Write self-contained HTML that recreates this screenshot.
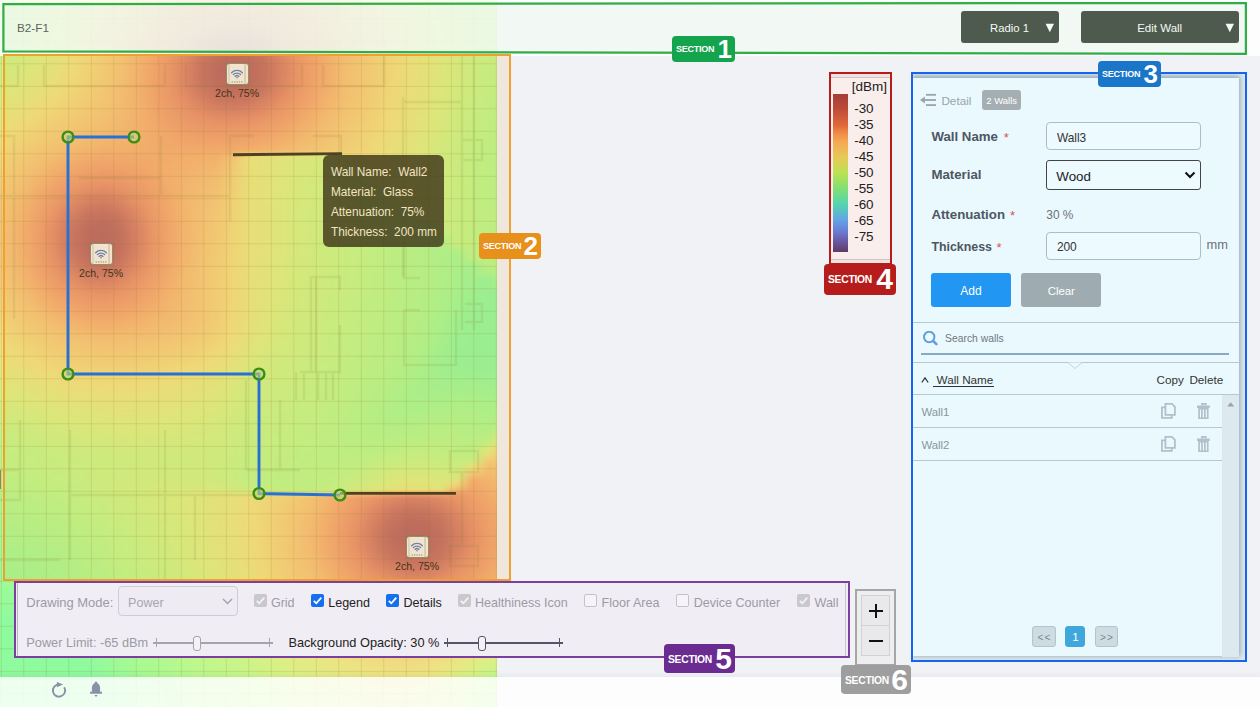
<!DOCTYPE html>
<html lang="en">
<head>
<meta charset="utf-8">
<title>Edit Wall</title>
<style>
*{box-sizing:border-box;margin:0;padding:0}
html,body{width:1260px;height:707px;overflow:hidden}
body{background:#f1f2f6;font-family:"Liberation Sans","DejaVu Sans",sans-serif;position:relative;color:#333}
.abs{position:absolute}
.tx{position:absolute;white-space:nowrap;line-height:1}
#heat{left:0;top:0;width:497px;height:707px;overflow:hidden;background:#d3e77c}
#hm{position:absolute;left:-8px;top:-8px;width:513px;filter:blur(1.5px)}
#hm i{display:block;height:4px;width:513px}
#grid{position:absolute;left:0;top:0;width:497px;height:707px;background-image:
 linear-gradient(to right,rgba(125,105,35,.165) 0,rgba(125,105,35,.165) 1.2px,transparent 1.2px),
 linear-gradient(to bottom,rgba(125,105,35,.165) 0,rgba(125,105,35,.165) 1.2px,transparent 1.2px);
 background-size:22.5px 22.5px;background-position:0.8px 18.3px}
#topbar{left:0;top:0;width:1260px;height:56px;background:rgba(255,255,255,.84)}
#footbar{left:0;top:677px;width:1260px;height:30px;background:rgba(255,255,255,.84);box-shadow:0 -2px 5px rgba(40,40,60,.05)}
.sec{position:absolute;border:2px solid}
.tag{position:absolute;color:#fff;font-weight:bold;border-radius:4px;white-space:nowrap}
.tag span{position:absolute;font-size:9px;letter-spacing:-.25px;left:4px;top:8px;line-height:11px}
.tag b{position:absolute;font-size:26px;right:3px;top:-2px;line-height:30px}
.tag.big span{font-size:10.3px;top:10px;line-height:12px}
.tag.big b{font-size:30px;top:-2px;line-height:34px;right:3px}
.tbtn{position:absolute;top:11px;height:32px;background:#50564f;border-radius:3px}
.ap{position:absolute;width:22.2px;height:22.2px;background:#f2eee6;border:1px solid #8c8876;border-radius:3px;box-shadow:0 0 1px rgba(60,50,30,.45);overflow:hidden}
#tip{left:323px;top:155px;width:121px;height:92px;background:rgba(44,48,28,.86);border-radius:6px}
#legend{left:831px;top:74px;width:59px;height:189px;background:#f2e2e0}
#legend .in{position:absolute;left:0;top:3px;width:59px;height:183px;background:#f9eeec;border-top:1px solid #cfc4c4;border-bottom:1px solid #cfc4c4}
#legend .bar{position:absolute;left:2px;top:20px;width:15px;height:158px;background:linear-gradient(to bottom,#a63c38 0,#bc4a38 9%,#e2683a 20%,#f08c48 25%,#f4a852 30%,#e8c858 40%,#bce254 50%,#84e070 59%,#54d4ae 70%,#62a8e4 79%,#6a82d8 86%,#6a5aa4 93%,#5e3c66 100%)}
#rp{left:911px;top:72px;width:336px;height:590px;border:2px solid #1565f0;background:#dde8ed;overflow:hidden}
#rpi{position:absolute;left:0px;top:4px;width:326px;height:578px;background:#eaf9fe;box-shadow:0 -1px 5px 1px rgba(70,100,120,.5)}
.inp{position:absolute;left:1046px;width:155px;height:28px;border:1px solid #aebcc6;border-radius:4px;background:#edfaff}
.hl{position:absolute;left:913px;width:326px;height:1px;background:#b6c8d0}
.btn{position:absolute;top:273px;width:80px;height:34px;border-radius:3px}
.pg{position:absolute;top:626px;height:21px;border-radius:3px;border:1px solid #b4c4cb;background:#ccdce2}
#ctl{left:14px;top:581px;width:836px;height:77px;border:2px solid #7b3fa0;background:#f1edf5}
.cb{position:absolute;width:13px;height:13px;border-radius:2px}
.cb.off{border:1px solid #c4c4c8;background:#f6f4f8}
.cb.dis{background:#c9c9cd}
.cb.on{background:#1570ef}
.cb svg{position:absolute;left:0;top:0}
.sl{position:absolute;height:1.5px;top:642px}
.sl:before,.sl:after{content:"";position:absolute;top:-4px;width:1px;height:9px;background:inherit}
.sl:before{left:3px}.sl:after{right:3px}
.th{position:absolute;top:636px;width:8px;height:15px;border-radius:3px;background:#f4f2f6}
#zm{left:855px;top:589px;width:41px;height:77px;border:2px solid #a6a6a6;background:#eeeef0}
#zm div{position:absolute;left:4px;width:29px;height:31px;background:#e9e9eb;border:1px solid #d2d2d6}
</style>
</head>
<body>
<div id="heat" class="abs">
<div id="hm">
<i style="background:linear-gradient(90deg,#c1f68b,#c4f68a,#c9f489,#d1f287,#d9f085,#e0ec84,#e7e783,#eee182,#f0da80,#f1d27e,#f3cb7c,#f3c47a,#f3be79,#f3b777,#f3b375,#f3b175,#f3b275,#f3b576,#f3bb78,#f3c27a,#f3c87b,#f2ce7d,#f1d57f,#efdb81,#eee283,#e8e683,#e3ea84,#deed85,#d8f185,#d1f387,#cdf488,#c9f489,#c6f58a)"></i>
<i style="background:linear-gradient(90deg,#c1f78b,#c3f68a,#c9f489,#d1f287,#d9f085,#e0ec84,#e8e783,#eee082,#f0d880,#f2d07e,#f3c97c,#f3c27a,#f3ba77,#f3b375,#f2ae74,#f2ac73,#f2ad74,#f3b175,#f3b777,#f3c079,#f3c67b,#f3cc7d,#f1d37f,#f0da80,#eee182,#e9e683,#e4e984,#deed84,#d9f185,#d1f287,#cdf488,#c9f489,#c6f58a)"></i>
<i style="background:linear-gradient(90deg,#c0f78b,#c3f68b,#c9f489,#d1f287,#daf085,#e1eb84,#e9e683,#eedf82,#f0d780,#f2cf7d,#f3c77b,#f3bf79,#f3b676,#f2ae74,#f2a973,#f1a772,#f2a872,#f2ac73,#f3b375,#f3bc78,#f3c37a,#f3ca7c,#f2d17e,#f0d880,#eedf82,#eae583,#e4e984,#dfed84,#d9f085,#d2f287,#cdf488,#c9f589,#c5f58a)"></i>
<i style="background:linear-gradient(90deg,#c0f78b,#c3f68b,#c9f489,#d1f287,#daf085,#e1eb84,#e9e583,#efde82,#f1d67f,#f3cd7d,#f3c57b,#f3bc78,#f3b275,#f2aa73,#f0a572,#efa372,#f0a472,#f2a872,#f2ae74,#f3b877,#f3c17a,#f3c97c,#f2d07e,#f0d780,#efde82,#ebe483,#e5e884,#dfec84,#daf085,#d2f287,#cdf488,#c9f589,#c5f58a)"></i>
<i style="background:linear-gradient(90deg,#c0f78b,#c2f68b,#c9f489,#d1f287,#daf085,#e1eb84,#eae583,#efdd81,#f1d47f,#f3cc7c,#f3c37a,#f3b877,#f2ae74,#f1a672,#eea171,#ed9f71,#eea071,#f0a472,#f2aa73,#f3b476,#f3bf79,#f3c77b,#f2ce7d,#f1d67f,#efdd81,#ece483,#e6e884,#e0ec84,#daf085,#d2f287,#cdf488,#c8f589,#c5f58a)"></i>
<i style="background:linear-gradient(90deg,#bff78b,#c2f68b,#c9f489,#d1f287,#daf085,#e2eb84,#ebe483,#efdc81,#f1d37f,#f3ca7c,#f3c17a,#f3b576,#f2aa73,#efa271,#ec9d71,#eb9b70,#ec9c70,#eea071,#f1a772,#f3b075,#f3bc78,#f3c57b,#f3cd7d,#f1d57f,#efdc81,#ede383,#e6e884,#e0ec84,#daf085,#d3f287,#ccf488,#c8f589,#c5f68a)"></i>
<i style="background:linear-gradient(90deg,#bff78c,#c3f68b,#c9f489,#d2f287,#dbef85,#e2ea84,#ece483,#efdb81,#f2d27e,#f3c97c,#f3be79,#f3b175,#f1a672,#ed9e71,#ea9970,#e9966f,#e99870,#ec9c70,#efa372,#f2ac74,#f3b877,#f3c37a,#f3cb7c,#f1d37f,#efdb81,#eee383,#e7e784,#e1eb84,#dbef85,#d3f287,#ccf488,#c8f589,#c4f68a)"></i>
<i style="background:linear-gradient(90deg,#bff78c,#c3f68b,#caf489,#d2f287,#dbef85,#e3ea84,#ece383,#f0da81,#f2d17e,#f3c77b,#f3bb78,#f2ae74,#efa372,#eb9b70,#e8946f,#e6906f,#e7926f,#ea9870,#eda071,#f2a973,#f3b576,#f3c27a,#f3ca7c,#f1d27e,#f0da80,#eee283,#e7e783,#e1eb84,#dbef85,#d3f287,#ccf488,#c8f589,#c4f68a)"></i>
<i style="background:linear-gradient(90deg,#bff78c,#c3f68b,#caf489,#d2f287,#dbef85,#e4e984,#ede383,#f0d980,#f2cf7e,#f3c67b,#f3b977,#f2ab73,#eea071,#e99770,#e58e6e,#e18b6d,#e38c6e,#e7936f,#ec9c71,#f1a672,#f3b275,#f3c079,#f3c97c,#f2d17e,#f0d980,#eee182,#e8e783,#e2eb84,#dbef85,#d3f286,#ccf488,#c7f589,#c4f68a)"></i>
<i style="background:linear-gradient(90deg,#bff78c,#c3f68b,#caf489,#d3f287,#dcef85,#e5e984,#eee283,#f0d880,#f2ce7d,#f3c47a,#f3b676,#f2a872,#ec9d71,#e7926f,#df896d,#db846c,#dd876c,#e58e6e,#ea9970,#efa372,#f3b075,#f3be79,#f3c87b,#f2d07e,#f0d880,#eee082,#e8e683,#e2eb84,#dbef85,#d3f286,#ccf488,#c7f58a,#c3f68b)"></i>
<i style="background:linear-gradient(90deg,#bff78b,#c4f68a,#cbf489,#d4f286,#ddee85,#e6e884,#eee182,#f0d780,#f3cd7d,#f3c37a,#f3b476,#f0a572,#eb9a70,#e48d6e,#d9836c,#d47e6b,#d7816b,#e0896d,#e8966f,#eea171,#f2ad74,#f3bc78,#f3c67b,#f2cf7d,#f0d880,#eee082,#e9e683,#e2ea84,#dcef85,#d4f286,#cbf488,#c7f58a,#c3f68b)"></i>
<i style="background:linear-gradient(90deg,#c0f78b,#c4f68a,#cbf488,#d5f286,#ddee85,#e6e884,#eee082,#f1d67f,#f3cc7d,#f3c17a,#f3b175,#efa372,#e99770,#df886d,#d37d6a,#cd7869,#d07b6a,#da846c,#e7926f,#ed9e71,#f2ab73,#f3ba77,#f3c57b,#f2ce7d,#f0d780,#efdf82,#e9e683,#e2ea84,#dcef85,#d4f286,#cbf489,#c6f58a,#c2f68b)"></i>
<i style="background:linear-gradient(90deg,#c0f78b,#c5f68a,#ccf488,#d6f186,#deed84,#e7e783,#eedf82,#f1d57f,#f3cb7c,#f3bf79,#f3af74,#eea171,#e7936f,#da846c,#cd7869,#c77268,#ca7568,#d57f6b,#e58e6e,#ec9c70,#f2a973,#f3b877,#f3c47a,#f3ce7d,#f0d67f,#efdf82,#e9e683,#e2ea84,#dcef85,#d4f286,#cbf489,#c6f58a,#c2f68b)"></i>
<i style="background:linear-gradient(90deg,#c1f68b,#c6f58a,#cef388,#d7f186,#dfed84,#e8e683,#efdf82,#f1d47f,#f3ca7c,#f3be78,#f2ad74,#ed9f71,#e6906e,#d5806b,#c77268,#c26e67,#c47067,#d07b6a,#e18a6d,#eb9a70,#f1a772,#f3b676,#f3c37a,#f3cd7d,#f1d67f,#efde82,#eae583,#e3ea84,#dcef85,#d3f286,#caf489,#c5f58a,#c1f68b)"></i>
<i style="background:linear-gradient(90deg,#c2f68b,#c7f58a,#cff388,#d8f185,#e0ec84,#e9e683,#efde81,#f1d47f,#f3c97c,#f3bc78,#f2ab73,#ec9d71,#e48d6e,#d17c6a,#c36f67,#be6b66,#c06d66,#cc7669,#de876d,#ea9870,#f0a572,#f3b576,#f3c37a,#f3cc7d,#f1d57f,#efde81,#eae583,#e3ea84,#dcef85,#d3f286,#caf489,#c5f58a,#c1f68b)"></i>
<i style="background:linear-gradient(90deg,#c3f68b,#c8f589,#d0f387,#d9f085,#e1eb84,#eae583,#efdd81,#f1d37e,#f3c87c,#f3bb78,#f2aa73,#eb9b70,#e18a6d,#cd7869,#bf6c66,#b96865,#bd6a66,#c77368,#da846c,#e99670,#f0a472,#f3b376,#f3c27a,#f3cc7d,#f1d57f,#efde81,#eae583,#e3ea84,#dcef85,#d3f287,#caf489,#c5f68a,#c0f78b)"></i>
<i style="background:linear-gradient(90deg,#c4f68a,#caf489,#d2f287,#daf085,#e2eb84,#ebe583,#efdc81,#f2d27e,#f3c77b,#f3b977,#f2a973,#eb9a70,#de886d,#ca7568,#bc6a66,#b66664,#b96865,#c47067,#d8826b,#e8956f,#efa372,#f3b275,#f3c17a,#f3cb7c,#f1d57f,#efdd81,#eae583,#e3ea84,#dcef85,#d3f287,#caf489,#c4f68a,#c0f78b)"></i>
<i style="background:linear-gradient(90deg,#c6f58a,#ccf488,#d4f286,#dcef85,#e3ea84,#ece483,#efdb81,#f2d17e,#f3c77b,#f3b877,#f1a872,#ea9970,#dc866c,#c77268,#b96865,#b56564,#b76664,#c26e67,#d6806b,#e7936f,#efa272,#f3b275,#f3c179,#f3cb7c,#f1d47f,#efdd81,#eae583,#e3ea84,#dcef85,#d3f287,#c9f489,#c4f68a,#bff78b)"></i>
<i style="background:linear-gradient(90deg,#c7f589,#cdf388,#d5f186,#ddee85,#e4e984,#ede383,#f0da80,#f2d07e,#f3c67b,#f3b877,#f1a772,#ea9870,#db856c,#c57167,#b76765,#b46564,#b66664,#c16d67,#d57f6b,#e7936f,#efa271,#f3b175,#f3c179,#f3cb7c,#f1d47f,#efdd81,#ebe583,#e3ea84,#dbef85,#d2f287,#c9f589,#c3f68b,#bff78c)"></i>
<i style="background:linear-gradient(90deg,#c9f489,#cff387,#d7f186,#deed84,#e5e884,#eee283,#f0d980,#f2d07e,#f3c57b,#f3b777,#f1a672,#e99770,#da846c,#c47067,#b66664,#b46464,#b66664,#c06d66,#d47e6a,#e7926f,#efa271,#f3b175,#f3c179,#f3cb7c,#f1d47f,#efdd81,#ebe583,#e3ea84,#dbef85,#d2f287,#c8f589,#c2f68b,#bef78c)"></i>
<i style="background:linear-gradient(90deg,#cbf489,#d1f287,#d9f085,#dfec84,#e6e784,#eee182,#f0d980,#f2cf7d,#f3c57b,#f3b676,#f1a672,#e99770,#da836c,#c47067,#b66664,#b36464,#b66564,#c06d66,#d47e6a,#e7926f,#efa271,#f3b175,#f3c179,#f3cb7c,#f1d47f,#efdd81,#eae583,#e3ea84,#dbef85,#d2f287,#c8f589,#c2f68b,#bdf78c)"></i>
<i style="background:linear-gradient(90deg,#cdf388,#d3f286,#daef85,#e1eb84,#e8e783,#eee082,#f0d880,#f2ce7d,#f3c47a,#f3b676,#f0a572,#e99770,#da846c,#c57067,#b76664,#b46464,#b66664,#c16d67,#d57f6b,#e7936f,#efa271,#f3b175,#f3c179,#f3cb7c,#f1d47f,#efdd81,#eae583,#e2ea84,#dbef85,#d1f287,#c7f589,#c1f68b,#bdf78c)"></i>
<i style="background:linear-gradient(90deg,#cff387,#d5f186,#dcee85,#e2ea84,#e9e683,#efdf82,#f0d67f,#f3cd7d,#f3c37a,#f3b676,#f0a572,#e99770,#da846c,#c67167,#b96865,#b56564,#b66664,#c26e67,#d6806b,#e7936f,#efa272,#f3b275,#f3c179,#f3cb7c,#f1d47f,#efdd81,#eae583,#e2ea84,#dbef85,#d1f387,#c7f58a,#c1f78b,#bcf78c)"></i>
<i style="background:linear-gradient(90deg,#d1f287,#d8f185,#deed85,#e4e984,#ebe583,#efde81,#f1d57f,#f3cd7d,#f3c37a,#f3b576,#f0a572,#e99770,#dc856c,#c87368,#bb6965,#b66664,#b96865,#c47067,#d8826b,#e8956f,#efa372,#f3b275,#f3c17a,#f3cb7c,#f1d57f,#efde81,#eae583,#e2eb84,#daf085,#d0f387,#c6f58a,#c0f78b,#bcf88d)"></i>
<i style="background:linear-gradient(90deg,#d4f286,#daf085,#dfec84,#e5e884,#ece483,#efdc81,#f1d47f,#f3cc7c,#f3c27a,#f3b576,#f1a672,#ea9870,#dd876d,#cb7569,#be6b66,#b96765,#bc6a66,#c77268,#da846c,#e99670,#f0a472,#f3b376,#f3c27a,#f3cc7d,#f1d57f,#efde81,#eae583,#e2eb84,#daf085,#d0f387,#c6f58a,#c0f78b,#bbf88d)"></i>
<i style="background:linear-gradient(90deg,#d6f186,#dbef85,#e1eb84,#e7e783,#eee283,#f0db81,#f1d37e,#f3cb7c,#f3c17a,#f3b576,#f1a672,#ea9870,#df896d,#ce7869,#c16e67,#bd6a66,#c06d66,#cb7669,#dd876d,#ea9870,#f0a572,#f3b576,#f3c37a,#f3cc7d,#f1d67f,#efde82,#e9e683,#e1eb84,#daf085,#cff388,#c5f58a,#bff78c,#baf88d)"></i>
<i style="background:linear-gradient(90deg,#d8f185,#ddee85,#e3ea84,#e9e683,#eee082,#f0d980,#f2d27e,#f3ca7c,#f3c179,#f3b576,#f1a672,#ea9970,#e28b6d,#d17c6a,#c57067,#c16d67,#c46f67,#d07b6a,#e18a6d,#eb9a70,#f1a772,#f3b676,#f3c37a,#f3cd7d,#f1d67f,#efdf82,#e9e683,#e1eb84,#d9f085,#cff388,#c4f68a,#bef78c,#baf88d)"></i>
<i style="background:linear-gradient(90deg,#daf085,#dfed84,#e5e984,#ebe483,#efdf82,#f0d780,#f2d07e,#f3c97c,#f3c079,#f3b676,#f1a772,#eb9a70,#e58e6e,#d5806b,#ca7568,#c57167,#c97468,#d57f6b,#e58e6e,#ec9c70,#f2a973,#f3b877,#f3c47a,#f2ce7d,#f0d77f,#eedf82,#e8e683,#e1eb84,#d9f185,#cef388,#c4f68a,#bef78c,#b9f88d)"></i>
<i style="background:linear-gradient(90deg,#dcef85,#e1eb84,#e7e784,#ede383,#efdd81,#f1d67f,#f2cf7d,#f3c87b,#f3bf79,#f3b676,#f2a872,#eb9b70,#e6906f,#da846c,#d07a6a,#cc7769,#d07a6a,#da846c,#e6926f,#ed9e71,#f2ab73,#f3b977,#f3c57b,#f2ce7d,#f0d780,#eee082,#e8e783,#e0ec84,#d8f185,#cdf388,#c3f68a,#bdf78c,#b9f88d)"></i>
<i style="background:linear-gradient(90deg,#deed85,#e2ea84,#e9e683,#eee182,#f0db81,#f1d47f,#f2ce7d,#f3c77b,#f3bf79,#f3b676,#f2a873,#ec9d71,#e7936f,#de886d,#d5806b,#d27d6a,#d6806b,#e0896d,#e8956f,#eea171,#f2ad74,#f3bb78,#f3c67b,#f2cf7d,#f0d880,#eee082,#e7e783,#e0ec84,#d8f185,#cdf488,#c3f68b,#bdf78c,#b8f88e)"></i>
<i style="background:linear-gradient(90deg,#dfec84,#e4e984,#ebe583,#efdf82,#f0d980,#f1d27e,#f3cc7d,#f3c57b,#f3be79,#f3b576,#f2a973,#ed9e71,#e8956f,#e38c6e,#db856c,#d9836c,#dc866c,#e58e6e,#ea9970,#efa372,#f3b074,#f3be79,#f3c77b,#f2d07e,#f0d980,#eee182,#e7e784,#dfec84,#d7f186,#ccf488,#c2f68b,#bcf78c,#b7f88e)"></i>
<i style="background:linear-gradient(90deg,#e1eb84,#e6e784,#ede383,#efdd81,#f0d77f,#f2d07e,#f3ca7c,#f3c47a,#f3bd78,#f3b576,#f2aa73,#eea071,#e99770,#e6906f,#e18a6d,#df886d,#e28c6e,#e7936f,#ec9c70,#f1a672,#f3b275,#f3c079,#f3c97c,#f2d17e,#f0da80,#eee283,#e6e884,#dfed84,#d6f186,#ccf488,#c2f68b,#bcf88c,#b7f88e)"></i>
<i style="background:linear-gradient(90deg,#e3ea84,#e9e683,#eee182,#f0db81,#f1d47f,#f2ce7d,#f3c87c,#f3c27a,#f3bc78,#f3b476,#f2ab73,#eea171,#ea9970,#e8946f,#e6906e,#e58e6e,#e6916f,#ea9870,#ed9f71,#f2a973,#f3b576,#f3c17a,#f3ca7c,#f1d27e,#f0da81,#eee383,#e6e884,#deed84,#d6f186,#cbf489,#c2f68b,#bbf88d,#b6f88e)"></i>
<i style="background:linear-gradient(90deg,#e4e984,#ebe583,#efdf82,#f0d880,#f1d27e,#f3cc7d,#f3c67b,#f3c179,#f3bb78,#f3b476,#f2ac74,#efa372,#ec9c70,#e99770,#e8946f,#e8946f,#e99670,#eb9b70,#efa372,#f2ac74,#f3b877,#f3c37a,#f3cb7c,#f1d37f,#efdb81,#ede383,#e5e884,#deed85,#d5f186,#caf489,#c1f68b,#bbf88d,#b6f88e)"></i>
<i style="background:linear-gradient(90deg,#e6e884,#ede383,#efdd81,#f1d67f,#f2d07e,#f3ca7c,#f3c47a,#f3bf79,#f3b977,#f3b376,#f2ad74,#f0a572,#ed9e71,#eb9a70,#ea9870,#ea9870,#eb9b70,#ed9f71,#f1a672,#f3b075,#f3bb78,#f3c57a,#f3cd7d,#f1d57f,#efdc81,#ece483,#e4e984,#ddee85,#d4f286,#c9f489,#c1f78b,#baf88d,#b6f88e)"></i>
<i style="background:linear-gradient(90deg,#e8e683,#eee283,#efdb81,#f1d47f,#f3cd7d,#f3c87b,#f3c27a,#f3bd78,#f3b877,#f3b375,#f2ad74,#f1a772,#eea171,#ec9d71,#ec9c70,#ec9c71,#ed9f71,#efa372,#f2aa73,#f3b376,#f3bf79,#f3c67b,#f2ce7d,#f1d67f,#efdd81,#ebe483,#e4e984,#ddee85,#d3f286,#c9f589,#c0f78b,#baf88d,#b5f88e)"></i>
<i style="background:linear-gradient(90deg,#eae583,#eee082,#f0d980,#f2d27e,#f3cb7c,#f3c57b,#f3c079,#f3bb78,#f3b777,#f3b275,#f2ad74,#f2a873,#f0a472,#eea171,#eea071,#eea071,#efa372,#f1a772,#f2ae74,#f3b777,#f3c179,#f3c87b,#f2cf7e,#f0d780,#efde82,#eae583,#e3ea84,#dcee85,#d3f287,#c8f589,#c0f78b,#baf88d,#b5f88f)"></i>
<i style="background:linear-gradient(90deg,#ece483,#efde81,#f0d77f,#f2cf7d,#f3c97c,#f3c37a,#f3bd78,#f3b977,#f3b576,#f3b175,#f2ad74,#f2aa73,#f1a672,#f0a472,#efa472,#f0a472,#f1a772,#f2ab73,#f3b275,#f3bb78,#f3c37a,#f3ca7c,#f2d17e,#f0d880,#eee082,#e9e683,#e2ea84,#dbef85,#d2f287,#c7f589,#c0f78b,#b9f88d,#b4f88f)"></i>
<i style="background:linear-gradient(90deg,#eee383,#efdc81,#f1d47f,#f3cd7d,#f3c67b,#f3c079,#f3ba77,#f3b676,#f3b375,#f3b075,#f2ad74,#f2ab73,#f2a973,#f1a772,#f1a772,#f2a873,#f2ab73,#f3b075,#f3b676,#f3bf79,#f3c57b,#f3cc7c,#f1d37e,#f0d980,#eee182,#e8e683,#e2eb84,#dbef85,#d1f287,#c7f58a,#bff78b,#b9f88d,#b4f88f)"></i>
<i style="background:linear-gradient(90deg,#eee182,#f0da80,#f1d27e,#f3cb7c,#f3c47a,#f3bc78,#f3b676,#f3b275,#f3b075,#f3af74,#f2ad74,#f2ac73,#f2ac73,#f2ab73,#f2ab73,#f2ad74,#f3b074,#f3b476,#f3bb78,#f3c17a,#f3c77b,#f3cd7d,#f1d47f,#efdb81,#eee283,#e7e783,#e1eb84,#daf085,#d0f387,#c6f58a,#bff78c,#b9f88d,#b4f88f)"></i>
<i style="background:linear-gradient(90deg,#eedf82,#f0d880,#f2d07e,#f3c87c,#f3c179,#f3b877,#f3b275,#f2ae74,#f2ad74,#f2ad74,#f2ad74,#f2ad74,#f2ae74,#f2af74,#f3b074,#f3bb78,#f1d37e,#f0d880,#efdd81,#eee283,#eae583,#e4e984,#efdb81,#efdc81,#ede383,#e7e784,#e0ec84,#d9f085,#d0f387,#c6f58a,#bff78c,#b8f88d,#b4f88f)"></i>
<i style="background:linear-gradient(90deg,#efde81,#f1d67f,#f2ce7d,#f3c67b,#f3bd78,#f3b476,#f2ad74,#f2aa73,#f2aa73,#f2ab73,#f2ad74,#f2ae74,#f3af74,#f3b275,#f3b476,#f3c77b,#eae583,#e4e984,#deed85,#daf085,#d5f286,#cff387,#d2f287,#efdd81,#ece483,#e6e884,#e0ec84,#d9f185,#cff388,#c6f58a,#bff78c,#b8f88e,#b3f88f)"></i>
<i style="background:linear-gradient(90deg,#efdc81,#f1d47f,#f3cc7d,#f3c47a,#f3b977,#f3b075,#f2a973,#f1a772,#f1a772,#f2a973,#f2ac74,#f2ae74,#f3b175,#f3b476,#f3b777,#f3cb7c,#e9e683,#e3ea84,#dded85,#d9f085,#d4f286,#cff388,#c9f489,#efdf82,#ebe583,#e5e884,#dfed84,#d8f185,#cef388,#c5f58a,#bef78c,#b8f88e,#b3f88f)"></i>
<i style="background:linear-gradient(90deg,#f0db81,#f1d37e,#f3ca7c,#f3c17a,#f3b576,#f2ab73,#f0a672,#efa372,#f0a472,#f1a672,#f2ab73,#f3af74,#f3b275,#f3b676,#f3b977,#f3cd7d,#e9e683,#e3ea84,#ddee85,#d8f185,#d3f287,#cef388,#c9f589,#ede383,#eae583,#e4e984,#deed84,#d7f186,#cdf388,#c5f58a,#bef78c,#b8f88e,#b3f88f)"></i>
<i style="background:linear-gradient(90deg,#f0d980,#f2d17e,#f3c87c,#f3be79,#f3b175,#f1a872,#efa271,#ed9f71,#eea071,#f0a472,#f2aa73,#f3b075,#f3b476,#f3b877,#f3bc78,#f2ce7d,#e8e683,#e3ea84,#ddee85,#d7f185,#d3f287,#cdf388,#c8f589,#d2f287,#e9e683,#e3ea84,#ddee85,#d6f186,#cdf488,#c5f58a,#bef78c,#b8f88e,#b3f88f)"></i>
<i style="background:linear-gradient(90deg,#f0d880,#f2cf7d,#f3c67b,#f3bb78,#f2ae74,#f0a472,#ed9e71,#ec9c70,#ec9d71,#efa271,#f2a872,#f3b075,#f3b576,#f3ba77,#f3be79,#f2d07e,#e8e683,#e2ea84,#dcee85,#d7f186,#d2f287,#cdf388,#c8f589,#c3f68b,#e8e783,#e2ea84,#ddee85,#d5f186,#ccf488,#c5f68a,#bef78c,#b8f88e,#b3f88f)"></i>
<i style="background:linear-gradient(90deg,#f0d77f,#f2ce7d,#f3c47a,#f3b877,#f2aa73,#eea071,#eb9a70,#ea9870,#eb9a70,#ed9f71,#f1a772,#f3b075,#f3b676,#f3bb78,#f3c079,#f2d17e,#e8e683,#e2ea84,#dcee85,#d6f186,#d1f287,#cdf488,#c7f589,#c2f68b,#e7e784,#e2eb84,#dcef85,#d4f286,#cbf488,#c5f68a,#bef78c,#b8f88e,#b3f88f)"></i>
<i style="background:linear-gradient(90deg,#f1d67f,#f3cc7d,#f3c37a,#f3b476,#f1a772,#ec9d71,#e99670,#e8946f,#e99770,#ec9d71,#f0a572,#f3af74,#f3b777,#f3bd78,#f3c27a,#f1d27e,#e8e683,#e2ea84,#dcef85,#d5f186,#d1f287,#ccf488,#c7f58a,#c2f68b,#d3f287,#e1eb84,#dbef85,#d3f286,#cbf489,#c4f68a,#bef78c,#b8f88e,#b3f88f)"></i>
<i style="background:linear-gradient(90deg,#f1d47f,#f3cb7c,#f3c179,#f3b175,#f0a472,#ea9a70,#e6916f,#e58f6e,#e7936f,#eb9a70,#efa372,#f2ae74,#f3b777,#f3be79,#f3c37a,#f1d37f,#e8e683,#e2eb84,#dcef85,#d5f186,#d0f387,#ccf488,#c7f58a,#c2f68b,#bef78c,#e0ec84,#daf085,#d2f287,#cbf489,#c4f68a,#bef78c,#b8f88e,#b3f88f)"></i>
<i style="background:linear-gradient(90deg,#f1d37f,#f3ca7c,#f3bf79,#f2ae74,#eea171,#e9966f,#e38c6e,#e08a6d,#e58f6e,#ea9870,#efa271,#f2ad74,#f3b877,#f3bf79,#f3c57b,#f1d47f,#e8e683,#e2eb84,#dcef85,#d4f286,#d0f387,#cbf488,#c6f58a,#c2f68b,#bcf78c,#dfed84,#d9f085,#d1f287,#cbf489,#c4f68a,#bdf78c,#b8f88e,#b3f88f)"></i>
<i style="background:linear-gradient(90deg,#f1d27e,#f3c87c,#f3bc78,#f2ac73,#ed9e71,#e6916f,#dd876d,#da846c,#e18a6d,#e8956f,#eea071,#f2ac74,#f3b877,#f3c079,#f3c67b,#f1d57f,#e8e683,#e2eb84,#dbef85,#d4f286,#d0f387,#cbf489,#c6f58a,#c1f68b,#bcf78c,#d4f286,#d8f185,#d1f387,#caf489,#c4f68a,#bdf78c,#b8f88e,#b3f88f)"></i>
<i style="background:linear-gradient(90deg,#f2d17e,#f3c77b,#f3ba78,#f2a973,#eb9b70,#e48d6e,#d7816b,#d47f6b,#db856c,#e7926f,#ed9e71,#f2ab73,#f3b977,#f3c179,#f3c77b,#f1d67f,#e8e683,#e2eb84,#dbef85,#d4f286,#cff387,#cbf489,#c6f58a,#c1f68b,#bcf78c,#bbf88d,#d7f185,#d0f387,#caf489,#c4f68a,#bdf78c,#b8f88e,#b3f88f)"></i>
<i style="background:linear-gradient(90deg,#f2d07e,#f3c67b,#f3b877,#f1a772,#ea9970,#df886d,#d27c6a,#ce7969,#d6816b,#e58f6e,#ec9d71,#f2aa73,#f3b977,#f3c17a,#f3c97c,#f0d77f,#e9e683,#e2eb84,#dbef85,#d3f286,#cff388,#caf489,#c6f58a,#c1f68b,#bcf88c,#b6f88e,#d6f186,#d0f387,#caf489,#c4f68a,#bdf78c,#b8f88e,#b3f88f)"></i>
<i style="background:linear-gradient(90deg,#f2d07e,#f3c57b,#f3b676,#f0a572,#e9966f,#da846c,#cc7769,#c97468,#d27c6a,#e28c6e,#eb9b70,#f2a973,#f3b977,#f3c27a,#f3c97c,#f0d780,#e9e683,#e2ea84,#dbef85,#d3f286,#cff388,#caf489,#c6f58a,#c1f68b,#bcf88c,#b6f88e,#d2f287,#cff387,#caf489,#c3f68a,#bdf78c,#b8f88e,#b3f88f)"></i>
<i style="background:linear-gradient(90deg,#f2cf7d,#f3c47a,#f3b576,#efa372,#e7936f,#d6806b,#c77268,#c46f67,#cd7869,#df886d,#eb9a70,#f2a873,#f3b977,#f3c27a,#f3ca7c,#f0d880,#e9e683,#e2ea84,#dbef85,#d3f287,#cef388,#caf489,#c6f58a,#c1f78b,#bcf88c,#b6f88e,#baf88d,#cff388,#c9f489,#c3f68a,#bdf78c,#b8f88e,#b4f88f)"></i>
<i style="background:linear-gradient(90deg,#f2ce7d,#f3c47a,#f3b376,#efa271,#e6916f,#d27c6a,#c36f67,#c06d66,#c87368,#dc866c,#ea9970,#f1a772,#f3b877,#f3c37a,#f3cb7c,#f0d880,#e9e683,#e2ea84,#dbef85,#d3f287,#cef388,#caf489,#c5f58a,#c1f78b,#bcf88d,#b6f88e,#b1f990,#cff388,#c9f489,#c3f68b,#bdf78c,#b8f88e,#b4f88f)"></i>
<i style="background:linear-gradient(90deg,#f2ce7d,#f3c37a,#f3b275,#eea171,#e58e6e,#ce7969,#bf6c66,#bc6a65,#c47067,#d9836c,#e99770,#f1a772,#f3b877,#f3c37a,#f3cc7c,#f0d880,#e9e683,#e2ea84,#dbef85,#d3f287,#cef388,#caf489,#c5f58a,#c1f78b,#bbf88d,#b6f88e,#b1f990,#cef388,#c9f489,#c3f68b,#bdf78c,#b8f88e,#b4f88f)"></i>
<i style="background:linear-gradient(90deg,#f3cd7d,#f3c27a,#f3b175,#ed9f71,#e38c6e,#cb7669,#bc6a65,#b86765,#c26e67,#d6816b,#e99670,#f1a672,#f3b777,#f3c37a,#f3cc7d,#f0d980,#e9e683,#e2ea84,#dbef85,#d3f287,#cef388,#caf489,#c5f58a,#c0f78b,#bbf88d,#b6f88e,#b1f990,#bcf88c,#c9f589,#c3f68b,#bdf78c,#b8f88e,#b4f88f)"></i>
<i style="background:linear-gradient(90deg,#f3cd7d,#f3c27a,#f3b075,#ed9e71,#e18a6d,#c87368,#b96865,#b66664,#c06c66,#d47f6b,#e8956f,#f0a672,#f3b777,#f3c37a,#f3cc7d,#f0d980,#e9e683,#e2ea84,#dbef85,#d3f287,#cef388,#c9f489,#c5f58a,#c0f78b,#bbf88d,#b6f88e,#b1f990,#aef991,#c9f589,#c3f68b,#bdf78c,#b8f88e,#b4f88f)"></i>
<i style="background:linear-gradient(90deg,#f3cd7d,#f3c27a,#f3af74,#ed9e71,#e0896d,#c67168,#b76665,#b66664,#be6b66,#d37d6a,#e8946f,#f0a572,#f3b777,#f3c47a,#f3cd7d,#f0d980,#e9e683,#e2ea84,#dbef85,#d3f287,#cef388,#c9f489,#c5f68a,#c0f78b,#bbf88d,#b6f88e,#b1f990,#adf991,#c8f589,#c3f68b,#bdf78c,#b8f88e,#b4f88f)"></i>
<i style="background:linear-gradient(90deg,#f3cd7d,#f3c17a,#f3af74,#ec9d71,#df886d,#c57067,#b76664,#b56564,#bc6a66,#d27c6a,#e8946f,#f0a572,#f3b777,#f3c47a,#f3cd7d,#f0d980,#e9e683,#e2ea84,#dbef85,#d3f287,#cdf388,#c9f489,#c5f68a,#c0f78b,#bbf88d,#b6f88e,#b1f990,#adf991,#bff78c,#c2f68b,#bdf78c,#b8f88e,#b4f88f)"></i>
<i style="background:linear-gradient(90deg,#f3cd7d,#f3c17a,#f2af74,#ec9d71,#de886d,#c47067,#b66664,#b46564,#bc6a65,#d17c6a,#e7936f,#f0a572,#f3b777,#f3c47a,#f3ce7d,#f0da80,#e9e683,#e2ea84,#dbef85,#d3f287,#cdf388,#c9f489,#c4f68a,#c0f78b,#bbf88d,#b6f88e,#b1f990,#adf991,#abf991,#c2f68b,#bdf78c,#b8f88e,#b4f88f)"></i>
<i style="background:linear-gradient(90deg,#f3cd7d,#f3c17a,#f2af74,#ec9d71,#de886d,#c47067,#b66664,#b56564,#bc6a65,#d17c6a,#e7936f,#f0a572,#f3b777,#f3c47a,#f2ce7d,#f0da80,#e9e683,#e2eb84,#dbef85,#d2f287,#cdf388,#c9f589,#c4f68a,#c0f78b,#bbf88d,#b6f88e,#b1f990,#adf991,#a8f992,#c2f68b,#bcf78c,#b7f88e,#b4f88f)"></i>
<i style="background:linear-gradient(90deg,#f3cd7d,#f3c27a,#f3af74,#ec9d71,#df886d,#c57067,#b76664,#b56564,#bd6a66,#d27c6a,#e8946f,#f0a572,#f3b777,#f3c57b,#f2ce7d,#f0da80,#e9e683,#e2eb84,#dbef85,#d2f287,#cdf388,#c9f589,#c4f68a,#c0f78b,#bbf88d,#b6f88e,#b1f990,#adf991,#a8f992,#bff78c,#bcf78c,#b7f88e,#b3f88f)"></i>
<i style="background:linear-gradient(90deg,#f3cd7d,#f3c27a,#f3b074,#ed9e71,#e0896d,#c67268,#b76665,#b66664,#be6b66,#d37d6a,#e8956f,#f1a672,#f3b877,#f3c57b,#f2cf7d,#f0db81,#e9e683,#e2eb84,#dbef85,#d2f287,#cdf488,#c8f589,#c4f68a,#c0f78b,#bbf88d,#b6f88e,#b1f990,#adf991,#a8f992,#aaf992,#bcf88c,#b7f88e,#b3f88f)"></i>
<i style="background:linear-gradient(90deg,#f3ce7d,#f3c27a,#f3b075,#ed9f71,#e18b6d,#c87368,#b96865,#b76664,#c06d66,#d57f6b,#e9966f,#f1a672,#f3b877,#f3c57b,#f2cf7d,#efdb81,#e9e683,#e2eb84,#dbef85,#d2f287,#cdf488,#c8f589,#c4f68a,#c0f78b,#bbf88d,#b6f88e,#b1f990,#adf991,#a8f992,#a2fa95,#bbf88d,#b6f88e,#b2f88f)"></i>
<i style="background:linear-gradient(90deg,#f2ce7d,#f3c37a,#f3b175,#eda071,#e38c6e,#cb7669,#bc6a66,#b86765,#c26e67,#d7816b,#e99770,#f1a772,#f3b977,#f3c67b,#f2d07e,#efdb81,#e9e683,#e1eb84,#daf085,#d1f287,#ccf488,#c8f589,#c4f68a,#bff78b,#bbf88d,#b6f88e,#b1f990,#adf991,#a8f992,#a2fa95,#bbf88d,#b6f88e,#b2f98f)"></i>
<i style="background:linear-gradient(90deg,#f2ce7d,#f3c37a,#f3b275,#eea171,#e58e6e,#ce7969,#bf6c66,#bc6a66,#c57067,#da846c,#ea9870,#f2a872,#f3ba77,#f3c67b,#f2d07e,#efdc81,#e8e683,#e1eb84,#daf085,#d1f287,#ccf488,#c8f589,#c4f68a,#bff78b,#bbf88d,#b6f88e,#b1f990,#adf991,#a8f992,#a2fa95,#aaf992,#b5f88e,#b1f990)"></i>
<i style="background:linear-gradient(90deg,#f2cf7d,#f3c47a,#f3b476,#efa271,#e6916f,#d27d6a,#c36f67,#c06d66,#c97468,#dd866c,#eb9a70,#f2a973,#f3bb78,#f3c77b,#f2d17e,#efdc81,#e8e683,#e1eb84,#daf085,#d1f287,#ccf488,#c8f589,#c4f68a,#bff78c,#bbf88d,#b5f88e,#b1f990,#adf991,#a8f992,#a2fa95,#9cfa98,#b4f88f,#b0f990)"></i>
<i style="background:linear-gradient(90deg,#f2d07e,#f3c57b,#f3b576,#f0a472,#e7936f,#d6806b,#c77268,#c47067,#ce7869,#e0896d,#eb9b70,#f2aa73,#f3bc78,#f3c77b,#f2d17e,#efdc81,#e8e683,#e1eb84,#daf085,#d1f387,#ccf488,#c8f589,#c3f68a,#bff78c,#baf88d,#b5f88e,#b1f990,#adf991,#a8f992,#a1fa95,#9afa99,#b3f88f,#aff990)"></i>
<i style="background:linear-gradient(90deg,#f2d07e,#f3c67b,#f3b777,#f0a572,#e99670,#db856c,#cd7769,#c97468,#d27d6a,#e48d6e,#ec9d71,#f2ac73,#f3bd78,#f3c87b,#f2d17e,#efdd81,#e8e683,#e1eb84,#daf085,#d0f387,#ccf488,#c8f589,#c3f68a,#bff78c,#baf88d,#b5f88e,#b1f990,#adf991,#a8f992,#a1fa96,#99fa99,#aaf992,#aef991)"></i>
<i style="background:linear-gradient(90deg,#f2d17e,#f3c77b,#f3b977,#f1a772,#ea9970,#df896d,#d27d6a,#cf7a6a,#d8826b,#e6906f,#ed9f71,#f2ad74,#f3be78,#f3c87b,#f2d17e,#efdd81,#e8e783,#e1eb84,#d9f085,#d0f387,#ccf488,#c7f589,#c3f68b,#bff78c,#baf88d,#b5f88e,#b1f990,#adf991,#a8fa92,#a1fa96,#98fa9a,#95fa9c,#adf991)"></i>
<i style="background:linear-gradient(90deg,#f1d27e,#f3c87b,#f3bb78,#f2aa73,#ec9c70,#e48d6e,#d8826b,#d57f6b,#dd866c,#e8946f,#eea171,#f2af74,#f3be79,#f3c87c,#f2d27e,#efdd81,#e8e783,#e0ec84,#d9f085,#d0f387,#cbf488,#c7f58a,#c3f68b,#bff78c,#baf88d,#b5f88e,#b1f990,#adf991,#a8fa92,#a0fa96,#98fa9a,#90fa9e,#acf991)"></i>
<i style="background:linear-gradient(90deg,#f1d37f,#f3c97c,#f3bd78,#f2ac74,#ed9e71,#e7926f,#de876d,#db856c,#e28b6e,#e99770,#efa372,#f3b075,#f3be79,#f3c87c,#f2d27e,#efdd81,#e8e783,#e0ec84,#d9f185,#d0f387,#cbf489,#c7f58a,#c3f68b,#bef78c,#baf88d,#b5f88f,#b1f990,#adf991,#a7fa93,#9ffa96,#96fa9b,#8ffa9e,#a9f992)"></i>
<i style="background:linear-gradient(90deg,#f1d47f,#f3ca7c,#f3bf79,#f3af74,#eea171,#e9966f,#e48d6e,#e18b6d,#e6906e,#eb9a70,#f0a572,#f3b275,#f3bf79,#f3c97c,#f2d27e,#efdd81,#e8e783,#e0ec84,#d8f185,#cff387,#cbf489,#c7f58a,#c3f68b,#bef78c,#baf88d,#b5f88f,#b1f990,#adf991,#a7fa93,#9ffa97,#95fa9b,#8ffa9e,#90fa9e)"></i>
<i style="background:linear-gradient(90deg,#f1d57f,#f3cc7c,#f3c27a,#f3b275,#f0a472,#eb9a70,#e7926f,#e6906e,#e8956f,#ec9d71,#f1a772,#f3b476,#f3bf79,#f3c97c,#f2d27e,#efdd81,#e8e783,#e0ec84,#d8f185,#cff388,#cbf489,#c7f58a,#c2f68b,#bef78c,#baf88d,#b5f88f,#b1f990,#acf991,#a7fa93,#9efa97,#94fa9c,#8ffa9e,#8ffa9e)"></i>
<i style="background:linear-gradient(90deg,#f0d67f,#f3cd7d,#f3c37a,#f3b576,#f1a772,#ed9e71,#e99770,#e8956f,#ea9970,#eea071,#f2a973,#f3b676,#f3c079,#f3c97c,#f2d27e,#efdd81,#e8e783,#e0ec84,#d8f185,#cff388,#cbf489,#c6f58a,#c2f68b,#bef78c,#b9f88d,#b4f88f,#b1f990,#acf991,#a6fa93,#9dfa98,#93fa9d,#8ffa9e,#8ffa9e)"></i>
<i style="background:linear-gradient(90deg,#f0d880,#f2ce7d,#f3c57b,#f3b877,#f2ab73,#eea171,#eb9b70,#eb9a70,#ec9c71,#efa372,#f2ac73,#f3b877,#f3c079,#f3c97c,#f2d27e,#efdd81,#e8e783,#dfec84,#d7f186,#cff388,#caf489,#c6f58a,#c2f68b,#bef78c,#b9f88d,#b4f88f,#b1f990,#acf991,#a6fa93,#9cfa98,#91fa9e,#8ffa9e,#8ffa9e)"></i>
<i style="background:linear-gradient(90deg,#f0d980,#f2d07e,#f3c77b,#f3bb78,#f2ae74,#f0a572,#ed9f71,#ec9e71,#eea071,#f1a672,#f2ae74,#f3b977,#f3c179,#f3c97c,#f2d27e,#efdd81,#e8e783,#dfec84,#d7f186,#cff388,#caf489,#c6f58a,#c2f68b,#bdf78c,#b9f88d,#b4f88f,#b0f990,#acf991,#a5fa93,#9bfa99,#90fa9e,#8ffa9e,#8ffa9e)"></i>
<i style="background:linear-gradient(90deg,#f0da80,#f2d17e,#f3c97c,#f3bf79,#f3b275,#f2a873,#efa372,#eea171,#efa472,#f2a973,#f3b175,#f3ba78,#f3c17a,#f3c97c,#f2d27e,#efde81,#e7e783,#dfec84,#d6f186,#cef388,#caf489,#c6f58a,#c1f68b,#bdf78c,#b9f88d,#b4f88f,#b0f990,#abf991,#a4fa94,#9afa99,#8ffa9e,#8ffa9e,#8ffa9e)"></i>
<i style="background:linear-gradient(90deg,#efdb81,#f1d37f,#f3cb7c,#f3c27a,#f3b676,#f2ad74,#f1a772,#f0a572,#f1a772,#f2ac74,#f3b476,#f3bc78,#f3c27a,#f3ca7c,#f1d27e,#efde81,#e7e783,#dfed84,#d6f186,#cef388,#caf489,#c5f58a,#c1f68b,#bdf78c,#b8f88d,#b4f88f,#b0f990,#abf991,#a4fa94,#98fa9a,#8ffa9e,#8ffa9e,#8ffa9e)"></i>
<i style="background:linear-gradient(90deg,#efdd81,#f1d57f,#f3cc7d,#f3c47a,#f3ba77,#f3b175,#f2ab73,#f2a973,#f2ab73,#f3b075,#f3b877,#f3bd78,#f3c37a,#f3ca7c,#f1d27e,#efde82,#e7e784,#deed84,#d5f186,#cef388,#c9f489,#c5f58a,#c1f68b,#bdf78c,#b8f88e,#b3f88f,#b0f990,#abf992,#a3fa95,#97fa9b,#8ffa9e,#8ffa9e,#8ffa9e)"></i>
<i style="background:linear-gradient(90deg,#efde82,#f0d67f,#f2ce7d,#f3c77b,#f3be79,#f3b576,#f3b075,#f2ae74,#f3af74,#f3b476,#f3ba78,#f3be79,#f3c47a,#f3cb7c,#f1d37f,#efdf82,#e6e784,#deed85,#d4f286,#cef388,#c9f489,#c5f68a,#c1f78b,#bcf78c,#b8f88e,#b3f88f,#b0f990,#aaf992,#a2fa95,#96fa9b,#8ffa9e,#8ffa9e,#8ffa9e)"></i>
<i style="background:linear-gradient(90deg,#eee082,#f0d880,#f2d07e,#f3c97c,#f3c27a,#f3ba77,#f3b476,#f3b275,#f3b476,#f3b877,#f3bd78,#f3c079,#f3c67b,#f3cc7d,#f1d47f,#eedf82,#e6e884,#ddee85,#d4f286,#cdf388,#c9f589,#c4f68a,#c0f78b,#bcf78c,#b8f88e,#b3f88f,#aff990,#aaf992,#a1fa96,#94fa9c,#8ffa9e,#8ffa9e,#8ffa9e)"></i>
<i style="background:linear-gradient(90deg,#eee182,#f0da80,#f1d27e,#f3cb7c,#f3c57b,#f3be79,#f3b977,#f3b777,#f3b877,#f3bc78,#f3bf79,#f3c27a,#f3c77b,#f3cd7d,#f1d57f,#eee082,#e5e884,#dcee85,#d3f287,#cdf388,#c8f589,#c4f68a,#c0f78b,#bcf88c,#b7f88e,#b3f88f,#aff990,#a9f992,#a0fa96,#93fa9c,#8ffa9e,#8ffa9e,#8ffa9e)"></i>
<i style="background:linear-gradient(90deg,#eee383,#efdc81,#f1d47f,#f2ce7d,#f3c87b,#f3c37a,#f3be78,#f3bc78,#f3bd78,#f3bf79,#f3c17a,#f3c57b,#f3c97c,#f2cf7d,#f0d77f,#eee182,#e4e984,#dcef85,#d2f287,#ccf488,#c8f589,#c4f68a,#c0f78b,#bcf88d,#b7f88e,#b3f88f,#aff990,#a9f992,#9ffa97,#92fa9d,#8ffa9e,#8ffa9e,#8ffa9e)"></i>
<i style="background:linear-gradient(90deg,#ece483,#efdd81,#f0d77f,#f2d07e,#f3ca7c,#f3c57b,#f3c27a,#f3c079,#f3c179,#f3c27a,#f3c47a,#f3c77b,#f3cb7c,#f2d17e,#f0d880,#eee383,#e3ea84,#dbef85,#d1f287,#ccf488,#c7f589,#c3f68a,#bff78b,#bbf88d,#b7f88e,#b3f88f,#aef990,#a8f992,#9efa97,#91fa9e,#8ffa9e,#8ffa9e,#8ffa9e)"></i>
<i style="background:linear-gradient(90deg,#eae583,#eedf82,#f0d980,#f1d27e,#f3cd7d,#f3c87c,#f3c57b,#f3c47a,#f3c47a,#f3c57b,#f3c77b,#f3ca7c,#f2ce7d,#f1d37e,#f0da80,#ece483,#e2ea84,#daf085,#d1f387,#cbf488,#c7f58a,#c3f68b,#bff78c,#bbf88d,#b6f88e,#b2f88f,#aef991,#a8fa92,#9dfa98,#90fa9e,#8ffa9e,#8ffa9e,#8ffa9e)"></i>
<i style="background:linear-gradient(90deg,#e9e683,#eee182,#f0db81,#f1d57f,#f2cf7d,#f3cb7c,#f3c87c,#f3c77b,#f3c77b,#f3c87b,#f3ca7c,#f3cd7d,#f2d07e,#f1d57f,#efdc81,#ebe583,#e1eb84,#d9f185,#d0f387,#cbf489,#c7f58a,#c3f68b,#bff78c,#bbf88d,#b6f88e,#b2f88f,#aef991,#a7fa93,#9cfa98,#90fa9e,#8ffa9e,#8ffa9e,#8ffa9e)"></i>
<i style="background:linear-gradient(90deg,#e7e784,#ede383,#efdd81,#f0d780,#f2d27e,#f2ce7d,#f3cb7c,#f3ca7c,#f3ca7c,#f3cb7c,#f3cd7d,#f2cf7d,#f1d37e,#f0d880,#efde82,#e9e683,#dfec84,#d7f186,#cff388,#caf489,#c6f58a,#c2f68b,#bef78c,#baf88d,#b6f88e,#b2f98f,#adf991,#a6fa93,#9afa99,#8ffa9e,#8ffa9e,#8ffa9e,#8ffa9e)"></i>
<i style="background:linear-gradient(90deg,#e5e884,#ece483,#efdf82,#f0d980,#f1d47f,#f2d07e,#f2ce7d,#f3cd7d,#f3cd7d,#f3ce7d,#f2cf7e,#f1d27e,#f1d57f,#f0db81,#eee082,#e7e783,#deed85,#d5f186,#cef388,#caf489,#c6f58a,#c2f68b,#bef78c,#baf88d,#b5f88e,#b2f990,#acf991,#a5fa94,#9afa99,#8ffa9e,#8ffa9e,#8ffa9e,#8ffa9e)"></i>
<i style="background:linear-gradient(90deg,#e4e984,#eae583,#eee182,#efdc81,#f0d780,#f1d37e,#f2d17e,#f2cf7d,#f2cf7d,#f2d07e,#f1d27e,#f1d57f,#f0d880,#efdd81,#eee283,#e6e884,#dcee85,#d4f286,#cef388,#c9f489,#c5f58a,#c1f68b,#bef78c,#baf88d,#b5f88e,#b1f990,#acf991,#a4fa94,#99fa9a,#8ffa9e,#8ffa9e,#8ffa9e,#8ffa9e)"></i>
<i style="background:linear-gradient(90deg,#e2ea84,#e8e783,#ede383,#efde81,#f0d980,#f1d67f,#f1d37f,#f1d27e,#f1d27e,#f1d37f,#f1d57f,#f0d880,#efdb81,#eee082,#ece483,#e4e984,#dbef85,#d2f287,#cdf388,#c9f589,#c5f68a,#c1f68b,#bdf78c,#b9f88d,#b5f88f,#b1f990,#abf992,#a2fa95,#98fa9a,#90fa9e,#8ffa9e,#8ffa9e,#8ffa9e)"></i>
<i style="background:linear-gradient(90deg,#e1eb84,#e6e884,#ebe483,#eee082,#efdc81,#f0d880,#f1d67f,#f1d57f,#f1d57f,#f1d67f,#f0d880,#f0da80,#efde81,#eee283,#eae583,#e2eb84,#d9f085,#d1f387,#ccf488,#c8f589,#c4f68a,#c1f78b,#bdf78c,#b9f88d,#b4f88f,#b0f990,#aaf992,#a1fa95,#98fa9a,#91fa9e,#8ffa9e,#8ffa9e,#8ffa9e)"></i>
<i style="background:linear-gradient(90deg,#dfec84,#e4e984,#e9e683,#eee283,#efde82,#efdb81,#f0d980,#f0d880,#f0d880,#f0d980,#f0da81,#efdd81,#eee182,#ece483,#e8e783,#e0ec84,#d7f186,#d0f387,#cbf488,#c7f589,#c4f68a,#c0f78b,#bdf78c,#b8f88d,#b4f88f,#aff990,#a9f992,#a0fa96,#98fa9a,#92fa9d,#8ffa9e,#8ffa9e,#8ffa9e)"></i>
<i style="background:linear-gradient(90deg,#deed85,#e2ea84,#e7e784,#ece483,#eee182,#efdd81,#efdb81,#f0da80,#f0da80,#efdb81,#efdd81,#eee082,#ede383,#eae583,#e6e884,#deed84,#d5f186,#cff388,#cbf489,#c7f58a,#c3f68a,#c0f78b,#bcf78c,#b8f88e,#b3f88f,#aff990,#a8f992,#9ffa96,#98fa9a,#94fa9c,#92fa9d,#90fa9e,#8ffa9e)"></i>
<i style="background:linear-gradient(90deg,#dcee85,#e0eb84,#e5e984,#e9e683,#ede383,#eee082,#efde81,#efdd81,#efdd81,#efde81,#eee082,#eee283,#ebe583,#e8e783,#e4e984,#ddee85,#d3f287,#cef388,#caf489,#c6f58a,#c3f68b,#bff78b,#bcf88c,#b8f88e,#b3f88f,#aef991,#a7fa93,#9ffa97,#99fa9a,#96fa9b,#94fa9c,#93fa9d,#91fa9d)"></i>
<i style="background:linear-gradient(90deg,#dbef85,#dfed84,#e3ea84,#e7e783,#ebe583,#eee283,#eee082,#eedf82,#eedf82,#eee082,#eee283,#ece483,#e9e683,#e6e884,#e2ea84,#dbef85,#d1f287,#cdf488,#c9f489,#c6f58a,#c2f68b,#bff78c,#bbf88d,#b7f88e,#b2f88f,#adf991,#a6fa93,#9efa97,#9afa99,#98fa9a,#97fa9b,#95fa9b,#93fa9c)"></i>
<i style="background:linear-gradient(90deg,#d9f085,#ddee85,#e1eb84,#e5e984,#e9e683,#ebe483,#ede383,#eee283,#eee283,#eee383,#ece483,#e9e683,#e7e784,#e4e984,#e1eb84,#d9f085,#cff387,#ccf488,#c9f589,#c5f58a,#c2f68b,#bff78c,#bbf88d,#b6f88e,#b2f990,#acf991,#a5fa93,#9efa97,#9bfa99,#9afa99,#9afa99,#98fa9a,#96fa9b)"></i>
<i style="background:linear-gradient(90deg,#d7f185,#dcef85,#dfec84,#e2ea84,#e6e884,#e9e683,#ebe483,#ece483,#ece483,#ebe483,#e9e583,#e7e783,#e5e884,#e2ea84,#dfed84,#d8f185,#cef388,#cbf489,#c8f589,#c5f68a,#c1f68b,#bef78c,#baf88d,#b6f88e,#b1f990,#abf991,#a4fa94,#9ffa97,#9dfa98,#9cfa98,#9cfa98,#9afa99,#98fa9a)"></i>
<i style="background:linear-gradient(90deg,#d5f186,#daf085,#ddee85,#e1eb84,#e4e984,#e7e784,#e9e683,#eae583,#eae583,#e9e683,#e7e783,#e5e884,#e3ea84,#e1eb84,#dded85,#d6f186,#cdf388,#caf489,#c7f58a,#c4f68a,#c1f68b,#bef78c,#baf88d,#b5f88e,#b0f990,#aaf992,#a4fa94,#9ffa96,#9efa97,#9ffa97,#9efa97,#9cfa98,#9afa99)"></i>
<i style="background:linear-gradient(90deg,#d3f287,#d8f185,#dcef85,#dfed84,#e1eb84,#e4e984,#e6e884,#e7e783,#e7e783,#e7e784,#e5e884,#e4e984,#e2eb84,#dfec84,#dcee85,#d4f286,#ccf488,#c9f489,#c7f58a,#c4f68a,#c1f78b,#bdf78c,#b9f88d,#b5f88f,#b0f990,#aaf992,#a4fa94,#a1fa96,#a1fa96,#a2fa95,#a1fa96,#9ffa97,#9cfa98)"></i>
<i style="background:linear-gradient(90deg,#d1f287,#d6f186,#daf085,#ddee85,#e0ec84,#e2eb84,#e4e984,#e5e984,#e5e884,#e4e984,#e4e984,#e2ea84,#e0ec84,#deed85,#dbef85,#d2f287,#cbf488,#c9f589,#c6f58a,#c3f68b,#c0f78b,#bdf78c,#b9f88d,#b4f88f,#aff990,#a9f992,#a4fa94,#a2fa95,#a3fa95,#a4fa94,#a3fa94,#a1fa96,#9efa97)"></i>
<i style="background:linear-gradient(90deg,#cff388,#d3f286,#d8f185,#dbef85,#deed85,#e0ec84,#e1eb84,#e3ea84,#e3ea84,#e3ea84,#e2eb84,#e0ec84,#dfed84,#dcee85,#d9f085,#d1f387,#cbf489,#c8f589,#c5f58a,#c3f68b,#c0f78b,#bcf78c,#b8f88d,#b3f88f,#aef990,#a9f992,#a5fa94,#a4fa94,#a5fa93,#a7fa93,#a5fa93,#a3fa95,#a0fa96)"></i>
<i style="background:linear-gradient(90deg,#cdf488,#d1f287,#d5f186,#d9f085,#dcef85,#deed85,#e0ec84,#e1eb84,#e1eb84,#e1eb84,#e0ec84,#dfed84,#ddee85,#dbef85,#d8f185,#d0f387,#caf489,#c7f589,#c5f68a,#c2f68b,#bff78c,#bcf88c,#b8f88e,#b3f88f,#aef991,#a9f992,#a6fa93,#a6fa93,#a8fa93,#a8f992,#a7fa93,#a4fa94,#a3fa94)"></i>
<i style="background:linear-gradient(90deg,#cbf489,#cff388,#d3f287,#d7f186,#daf085,#dcee85,#deed85,#dfed84,#dfec84,#dfec84,#dfed84,#ddee85,#dcef85,#d9f085,#d6f186,#cff388,#c9f489,#c7f58a,#c4f68a,#c1f68b,#bff78c,#bcf88d,#b7f88e,#b2f88f,#aef991,#a9f992,#a7fa93,#a8fa92,#a9f992,#aaf992,#a9f992,#a6fa93,#a7fa93)"></i>
<i style="background:linear-gradient(90deg,#c9f589,#cdf488,#d1f387,#d4f286,#d8f185,#daf085,#dcef85,#ddee85,#dded85,#dded85,#ddee85,#dcef85,#daf085,#d8f185,#d4f286,#cef388,#c8f589,#c6f58a,#c3f68a,#c1f68b,#bef78c,#bbf88d,#b7f88e,#b2f88f,#adf991,#aaf992,#a8f992,#aaf992,#abf991,#acf991,#aaf992,#a8fa93,#acf991)"></i>
<i style="background:linear-gradient(90deg,#c7f58a,#caf489,#cef388,#d2f287,#d5f186,#d8f185,#daf085,#dbef85,#dcef85,#dcef85,#dbef85,#daf085,#d8f185,#d6f186,#d3f286,#cdf388,#c7f589,#c5f58a,#c3f68b,#c0f78b,#bef78c,#bbf88d,#b6f88e,#b2f98f,#adf991,#aaf992,#aaf992,#acf991,#adf991,#adf991,#abf991,#a9f992,#b3f88f)"></i>
<i style="background:linear-gradient(90deg,#c5f68a,#c8f589,#ccf488,#d0f387,#d3f287,#d6f186,#d8f185,#d9f085,#daf085,#daf085,#daf085,#d8f185,#d7f186,#d4f286,#d2f287,#ccf488,#c7f58a,#c5f68a,#c2f68b,#c0f78b,#bdf78c,#baf88d,#b6f88e,#b2f98f,#aef991,#acf991,#acf991,#aef991,#aff990,#aff990,#adf991,#aaf992,#bcf88c)"></i>
<i style="background:linear-gradient(90deg,#c4f68a,#c6f58a,#caf489,#cdf388,#d0f387,#d3f287,#d5f186,#d7f186,#d8f185,#d8f185,#d8f185,#d6f186,#d5f286,#d2f287,#d2f287,#ccf488,#c6f58a,#c4f68a,#c2f68b,#bff78b,#bdf78c,#baf88d,#b5f88e,#b2f98f,#aef990,#adf991,#aef991,#b0f990,#b1f990,#b0f990,#aef991,#acf991,#c7f58a)"></i>
<i style="background:linear-gradient(90deg,#c3f68b,#c4f68a,#c8f589,#cbf489,#cef388,#d1f387,#d3f287,#d5f286,#d6f186,#d6f186,#d5f186,#d4f286,#d3f287,#d1f287,#d1f387,#cbf489,#c5f58a,#c3f68b,#c1f68b,#bff78c,#bcf78c,#b9f88d,#b5f88e,#b2f98f,#aff990,#aff990,#b0f990,#b2f88f,#b3f88f,#b2f98f,#aff990,#b0f990,#d5f286)"></i>
<i style="background:linear-gradient(90deg,#c2f68b,#c3f68b,#c6f58a,#c9f489,#ccf488,#cef388,#d1f387,#d2f287,#d3f286,#d4f286,#d3f286,#d2f287,#d1f287,#d0f387,#d0f387,#caf489,#c4f68a,#c2f68b,#c0f78b,#bef78c,#bcf78c,#b9f88d,#b5f88e,#b2f88f,#b0f990,#b1f990,#b3f88f,#b5f88f,#b5f88e,#b3f88f,#b1f990,#b7f88e,#e1eb84)"></i>
<i style="background:linear-gradient(90deg,#c1f68b,#c2f68b,#c4f68a,#c7f58a,#caf489,#ccf488,#cef388,#d0f387,#d1f287,#d2f287,#d1f287,#d0f387,#d0f387,#cff387,#cff388,#c9f489,#c4f68a,#c2f68b,#c0f78b,#bef78c,#bcf88c,#b9f88d,#b5f88e,#b3f88f,#b2f98f,#b3f88f,#b5f88e,#b7f88e,#b7f88e,#b5f88e,#b2f88f,#c0f78b,#ebe483)"></i>
<i style="background:linear-gradient(90deg,#c0f78b,#c1f68b,#c3f68b,#c5f58a,#c8f589,#caf489,#ccf488,#cef388,#cff388,#d0f387,#cff387,#cff388,#cff388,#cef388,#cef388,#c8f589,#c3f68b,#c1f68b,#bff78b,#bef78c,#bbf88d,#b8f88d,#b6f88e,#b4f88f,#b4f88f,#b5f88e,#b8f88e,#b9f88d,#b9f88d,#b7f88e,#b3f88f,#cdf488,#efdb81)"></i>
<i style="background:linear-gradient(90deg,#c0f78b,#c1f78b,#c2f68b,#c3f68a,#c6f58a,#c8f589,#caf489,#ccf488,#cdf388,#cef388,#cdf388,#cdf388,#cef388,#cdf388,#cdf388,#c7f589,#c2f68b,#c0f78b,#bff78c,#bdf78c,#bbf88d,#b8f88e,#b6f88e,#b5f88e,#b5f88e,#b8f88e,#bbf88d,#bcf78c,#bbf88d,#b8f88d,#b5f88e,#dcef85,#f1d47f)"></i>
<i style="background:linear-gradient(90deg,#bff78c,#c0f78b,#c1f68b,#c3f68b,#c4f68a,#c7f58a,#c9f589,#caf489,#cbf488,#ccf488,#ccf488,#cdf488,#cdf488,#cdf488,#ccf488,#c7f58a,#c1f68b,#c0f78b,#bef78c,#bdf78c,#baf88d,#b8f88e,#b7f88e,#b6f88e,#b8f88e,#bcf88c,#bff78c,#c0f78b,#bef78c,#baf88d,#baf88d,#e9e683,#f2d07e)"></i>
<i style="background:linear-gradient(90deg,#bef78c,#bff78b,#c1f78b,#c2f68b,#c4f68a,#c5f58a,#c7f589,#c9f489,#caf489,#cbf489,#cbf488,#ccf488,#ccf488,#ccf488,#cbf488,#c6f58a,#c0f78b,#bff78c,#bef78c,#bcf78c,#baf88d,#b8f88d,#b8f88e,#b8f88e,#bbf88d,#c0f78b,#c3f68b,#c3f68a,#c1f68b,#bdf78c,#c1f68b,#f0d980,#f2ce7d)"></i>
<i style="background:linear-gradient(90deg,#bdf78c,#bff78c,#c0f78b,#c2f68b,#c3f68b,#c5f58a,#c7f58a,#c8f589,#c9f489,#caf489,#cbf489,#cbf488,#cbf488,#cbf489,#cbf489,#c5f58a,#c0f78b,#bef78c,#bdf78c,#bcf88c,#baf88d,#b9f88d,#b9f88d,#baf88d,#bff78c,#c4f68a,#c7f58a,#c7f58a,#c5f68a,#c0f78b,#cff388,#f3cd7d,#f3cc7d)"></i>
<i style="background:linear-gradient(90deg,#bcf78c,#bef78c,#bff78b,#c1f68b,#c3f68b,#c5f68a,#c7f58a,#c8f589,#c9f489,#caf489,#cbf489,#cbf489,#cbf489,#cbf489,#caf489,#c4f68a,#bff78c,#bef78c,#bdf78c,#bbf88d,#baf88d,#b9f88d,#baf88d,#bdf78c,#c2f68b,#c8f589,#cbf489,#cbf488,#c8f589,#c3f68b,#e0ec84,#f3c47a,#f3ca7c)"></i>
<i style="background:linear-gradient(90deg,#bbf88d,#bdf78c,#bef78c,#c0f78b,#c2f68b,#c4f68a,#c6f58a,#c8f589,#caf489,#cbf489,#cbf489,#cbf488,#cbf489,#cbf489,#caf489,#c4f68a,#bef78c,#bdf78c,#bcf78c,#bbf88d,#baf88d,#baf88d,#bbf88d,#c0f78b,#c6f58a,#ccf488,#d0f387,#d0f387,#ccf488,#c7f58a,#efde81,#f3c179,#f3c87b)"></i>
<i style="background:linear-gradient(90deg,#baf88d,#bbf88d,#bdf78c,#bff78b,#c2f68b,#c4f68a,#c6f58a,#c9f589,#caf489,#cbf488,#ccf488,#ccf488,#ccf488,#cbf489,#caf489,#c4f68a,#bef78c,#bcf78c,#bbf88d,#baf88d,#baf88d,#baf88d,#bdf78c,#c3f68a,#caf489,#d1f387,#d4f286,#d4f286,#d0f387,#cbf489,#f3ca7c,#f3be79,#f3c67b)"></i>
<i style="background:linear-gradient(90deg,#b8f88d,#baf88d,#bcf88c,#bef78c,#c1f78b,#c3f68a,#c6f58a,#c9f489,#cbf489,#ccf488,#cdf388,#cdf388,#cdf488,#ccf488,#cbf489,#c5f68a,#bef78c,#bcf78c,#bbf88d,#baf88d,#baf88d,#bbf88d,#c0f78b,#c7f58a,#cff388,#d5f186,#d9f085,#d9f185,#d5f286,#d5f186,#f3b877,#f3ba78,#f3c47a)"></i>
<i style="background:linear-gradient(90deg,#b7f88e,#b9f88d,#bbf88d,#bdf78c,#c0f78b,#c3f68b,#c6f58a,#c9f489,#cbf488,#cef388,#cff388,#cff388,#cff388,#cef388,#cdf388,#c7f58a,#c0f78b,#bdf78c,#bbf88d,#baf88d,#baf88d,#bcf78c,#c2f68b,#caf489,#d3f287,#daf085,#ddee85,#dcee85,#d9f085,#e5e884,#f2ab73,#f3b777,#f3c27a)"></i>
<i style="background:linear-gradient(90deg,#b6f88e,#b7f88e,#b9f88d,#bcf88c,#bef78c,#c1f68b,#c5f58a,#c8f589,#ccf488,#cef388,#d0f387,#d1f287,#d1f287,#d2f287,#d1f387,#caf489,#c3f68a,#bff78b,#bbf88d,#baf88d,#bbf88d,#bdf78c,#c4f68a,#cef388,#d7f186,#deed85,#e2eb84,#e1eb84,#ddee85,#f1d57f,#f2a872,#f3b476,#f3c079)"></i>
<i style="background:linear-gradient(90deg,#b4f88f,#b6f88e,#b8f88e,#baf88d,#bdf78c,#c0f78b,#c4f68a,#c8f589,#cbf489,#cff388,#d1f287,#d3f286,#d5f286,#d6f186,#d6f186,#d1f287,#cbf489,#c6f58a,#c0f78b,#bcf88c,#bdf78c,#c2f68b,#caf489,#d5f186,#deed84,#e6e884,#ebe583,#eae583,#e5e984,#f3b877,#f0a572,#f3b075,#f3be79)"></i>
<i style="background:linear-gradient(90deg,#b3f88f,#b5f88f,#b7f88e,#b9f88d,#bcf88c,#bff78c,#c3f68b,#c7f58a,#caf489,#cef388,#d2f287,#d5f186,#d9f185,#dcee85,#e0ec84,#e1eb84,#e3ea84,#e6e884,#e8e783,#eae583,#ede383,#f0d980,#f3cd7d,#f3c079,#f3b476,#f2a873,#efa372,#efa472,#f2aa73,#eb9b70,#efa271,#f2ae74,#f3bb78)"></i>
<i style="background:linear-gradient(90deg,#b2f88f,#b4f88f,#b6f88e,#b8f88e,#bbf88d,#bef78c,#c2f68b,#c6f58a,#c9f489,#cdf388,#d1f287,#d5f286,#d9f085,#dded85,#e2ea84,#e6e884,#ece483,#efdd81,#f1d67f,#f3ce7d,#f3c57b,#f3b877,#f2aa73,#ed9e71,#e7926f,#dd866c,#d6806b,#d7816b,#df886d,#e8946f,#ed9f71,#f2ab73,#f3b977)"></i>
<i style="background:linear-gradient(90deg,#b1f990,#b2f88f,#b4f88f,#b7f88e,#b9f88d,#bdf78c,#c1f78b,#c5f68a,#c9f589,#cdf488,#d0f387,#d4f286,#d9f185,#ddee85,#e2ea84,#e6e884,#ece483,#efdd81,#f1d57f,#f3cd7d,#f3c47a,#f3b676,#f1a772,#eb9b70,#e48d6e,#d7816b,#d07a6a,#d17b6a,#d9836c,#e5906e,#ec9c71,#f2a873,#f3b777)"></i>
<i style="background:linear-gradient(90deg,#b0f990,#b1f990,#b3f88f,#b6f88e,#b8f88d,#bcf88c,#c0f78b,#c4f68a,#c8f589,#ccf488,#d0f387,#d4f286,#d8f185,#ddee85,#e2ea84,#e6e884,#ece383,#efdc81,#f1d47f,#f3cc7d,#f3c37a,#f3b476,#f0a572,#ea9870,#df896d,#d17b6a,#c97468,#ca7568,#d37e6a,#e28c6e,#eb9a70,#f1a672,#f3b576)"></i>
<i style="background:linear-gradient(90deg,#aff990,#b0f990,#b2f98f,#b4f88f,#b7f88e,#bbf88d,#bff78c,#c3f68b,#c7f58a,#cbf489,#cff388,#d3f287,#d8f185,#ddee85,#e2ea84,#e6e784,#ede383,#efdc81,#f1d47f,#f3cb7c,#f3c17a,#f3b275,#efa372,#e8956f,#db846c,#cb7669,#c46f67,#c47067,#ce7969,#de886d,#ea9870,#f0a572,#f3b376)"></i>
<i style="background:linear-gradient(90deg,#adf991,#aff990,#b1f990,#b3f88f,#b6f88e,#baf88d,#bef78c,#c2f68b,#c6f58a,#caf489,#cef388,#d2f287,#d8f185,#ddee85,#e2ea84,#e6e784,#ede383,#efdb81,#f1d37f,#f3ca7c,#f3c079,#f3b075,#eea171,#e7926f,#d6816b,#c67168,#bf6c66,#c06d66,#c97468,#da846c,#e8956f,#efa372,#f3b275)"></i>
<i style="background:linear-gradient(90deg,#acf991,#aef991,#b0f990,#b2f88f,#b5f88e,#b9f88d,#bdf78c,#c1f68b,#c5f58a,#caf489,#cef388,#d2f287,#d7f186,#ddee85,#e2ea84,#e6e784,#ede383,#efdb81,#f1d37e,#f3ca7c,#f3be79,#f2ae74,#ed9f71,#e5906e,#d37d6a,#c36f67,#bb6965,#bc6a66,#c57067,#d7816b,#e7936f,#eea271,#f3b075)"></i>
<i style="background:linear-gradient(90deg,#abf991,#adf991,#aff990,#b1f990,#b4f88f,#b8f88e,#bcf78c,#c0f78b,#c5f68a,#c9f489,#cdf388,#d1f287,#d7f186,#dcee85,#e2eb84,#e6e784,#ede383,#efdb81,#f1d27e,#f3c97c,#f3bd78,#f2ad74,#ed9e71,#e48d6e,#d07a6a,#c06c66,#b76665,#b86765,#c26e67,#d47e6b,#e6916f,#eea071,#f3af74)"></i>
<i style="background:linear-gradient(90deg,#aaf992,#acf991,#aef991,#b0f990,#b3f88f,#b7f88e,#bbf88d,#bff78b,#c4f68a,#c8f589,#cdf488,#d1f387,#d6f186,#dcee85,#e2eb84,#e6e884,#ede383,#efdb81,#f1d27e,#f3c97c,#f3bd78,#f2ac73,#ec9d71,#e38c6e,#cd7869,#bd6b66,#b66664,#b66664,#c06d66,#d27c6a,#e6906e,#eda071,#f2ae74)"></i>
<i style="background:linear-gradient(90deg,#a9f992,#abf992,#adf991,#aff990,#b2f98f,#b6f88e,#baf88d,#bff78c,#c3f68b,#c8f589,#ccf488,#d0f387,#d6f186,#dcee85,#e2eb84,#e6e884,#ede383,#f0db81,#f2d27e,#f3c87c,#f3bc78,#f2ab73,#ec9c71,#e18b6d,#cb7669,#bb6965,#b56564,#b66664,#be6b66,#d07b6a,#e58f6e,#ed9f71,#f2ae74)"></i>
<i style="background:linear-gradient(90deg,#a8f992,#aaf992,#abf991,#aef991,#b1f990,#b5f88f,#b9f88d,#bef78c,#c2f68b,#c7f58a,#cbf488,#d0f387,#d6f186,#dcef85,#e1eb84,#e6e884,#ede383,#f0db81,#f2d27e,#f3c87c,#f3bc78,#f2ab73,#ec9c70,#e08a6d,#ca7568,#ba6965,#b56564,#b56564,#bd6b66,#cf7a69,#e58e6e,#ed9f71,#f2ad74)"></i>
<i style="background:linear-gradient(90deg,#a7fa93,#a9f992,#aaf992,#adf991,#b0f990,#b4f88f,#b8f88d,#bdf78c,#c2f68b,#c6f58a,#cbf489,#cff388,#d5f186,#dbef85,#e1eb84,#e6e884,#ede383,#f0db81,#f2d27e,#f3c87c,#f3bb78,#f2ab73,#ec9c70,#e08a6d,#ca7568,#ba6865,#b46564,#b56564,#bd6b66,#cf7969,#e58e6e,#ed9f71,#f2ad74)"></i>
<i style="background:linear-gradient(90deg,#a6fa93,#a8fa93,#a9f992,#acf991,#aff990,#b3f88f,#b7f88e,#bcf78c,#c1f78b,#c5f58a,#caf489,#cff388,#d4f286,#dbef85,#e1eb84,#e6e884,#ede383,#efdb81,#f2d27e,#f3c87c,#f3bc78,#f2ab73,#ec9c70,#e18a6d,#cb7669,#bb6965,#b56564,#b56564,#be6b66,#cf7a6a,#e58e6e,#ed9f71,#f2ae74)"></i>
<i style="background:linear-gradient(90deg,#a5fa94,#a7fa93,#a8f992,#abf992,#aef991,#b2f88f,#b6f88e,#bbf88d,#c0f78b,#c5f68a,#c9f489,#cef388,#d4f286,#dbef85,#e1eb84,#e6e884,#ede383,#efdb81,#f1d27e,#f3c87c,#f3bc78,#f2ab73,#ec9d71,#e28b6d,#cc7769,#bc6a66,#b66564,#b66664,#bf6c66,#d17b6a,#e58f6e,#ed9f71,#f2ae74)"></i>
<i style="background:linear-gradient(90deg,#a4fa94,#a5fa93,#a7fa93,#aaf992,#adf991,#b1f990,#b6f88e,#baf88d,#bff78c,#c4f68a,#c9f589,#cdf388,#d3f286,#daf085,#e0ec84,#e5e884,#ede383,#efdb81,#f1d27e,#f3c97c,#f3bd78,#f2ac73,#ec9d71,#e38c6e,#ce7969,#be6c66,#b76664,#b76664,#c16d67,#d37d6a,#e6906f,#eea071,#f2af74)"></i>
<i style="background:linear-gradient(90deg,#a3fa95,#a4fa94,#a6fa93,#a9f992,#acf991,#b0f990,#b5f88f,#b9f88d,#bef78c,#c3f68b,#c8f589,#cdf488,#d3f287,#daf085,#e0ec84,#e5e884,#ece483,#efdc81,#f1d37e,#f3c97c,#f3bd78,#f2ad74,#ed9e71,#e58e6e,#d17c6a,#c16d67,#b96865,#ba6965,#c46f67,#d57f6b,#e7926f,#eea171,#f3b075)"></i>
<i style="background:linear-gradient(90deg,#a2fa95,#a3fa95,#a5fa93,#a8fa92,#abf992,#aff990,#b4f88f,#b9f88d,#bef78c,#c2f68b,#c7f589,#ccf488,#d2f287,#daf085,#e0ec84,#e5e984,#ece483,#efdc81,#f1d37f,#f3ca7c,#f3bf79,#f2ae74,#eea071,#e6916f,#d47f6b,#c47067,#bd6b66,#be6b66,#c77268,#d8826b,#e8946f,#efa272,#f3b175)"></i>
<i style="background:linear-gradient(90deg,#a1fa96,#a2fa95,#a4fa94,#a7fa93,#aaf992,#aef991,#b3f88f,#b8f88e,#bdf78c,#c2f68b,#c7f58a,#cbf488,#d1f287,#d9f085,#dfec84,#e4e984,#ebe483,#efdd81,#f1d47f,#f3ca7c,#f3c079,#f3b075,#eea171,#e7936f,#d8826b,#c97468,#c16e67,#c26e67,#cc7769,#dc866c,#e99770,#f0a472,#f3b275)"></i>
<i style="background:linear-gradient(90deg,#a0fa96,#a1fa96,#a3fa95,#a6fa93,#a9f992,#adf991,#b2f98f,#b7f88e,#bcf88c,#c1f78b,#c6f58a,#cbf489,#d1f387,#d9f185,#dfed84,#e4e984,#ebe583,#efdd81,#f1d57f,#f3cb7c,#f3c17a,#f3b275,#efa372,#e9966f,#dd866c,#ce7969,#c67168,#c77268,#d17b6a,#e08a6d,#ea9970,#f0a572,#f3b476)"></i>
<i style="background:linear-gradient(90deg,#9ffa97,#a0fa96,#a2fa95,#a5fa94,#a8f992,#acf991,#b1f990,#b6f88e,#bbf88d,#c0f78b,#c5f58a,#caf489,#d0f387,#d8f185,#deed84,#e3ea84,#eae583,#efde81,#f1d57f,#f3cc7d,#f3c27a,#f3b476,#f0a572,#ea9970,#e18b6d,#d47e6b,#cc7769,#cd7869,#d6806b,#e58e6e,#eb9b70,#f1a772,#f3b676)"></i>
<i style="background:linear-gradient(90deg,#9efa97,#9ffa97,#a1fa96,#a4fa94,#a7fa93,#abf991,#b0f990,#b5f88f,#baf88d,#bff78b,#c4f68a,#caf489,#cff387,#d7f186,#deed85,#e3ea84,#e9e683,#efdf82,#f1d67f,#f3cd7d,#f3c47a,#f3b676,#f1a772,#ec9c70,#e58f6e,#da846c,#d37d6a,#d47e6a,#dc866c,#e7926f,#ed9e71,#f2aa73,#f3b877)"></i>
<i style="background:linear-gradient(90deg,#9dfa98,#9efa97,#a0fa96,#a3fa95,#a6fa93,#aaf992,#aff990,#b4f88f,#b9f88d,#bff78c,#c4f68a,#c9f589,#cff388,#d6f186,#ddee85,#e2ea84,#e9e683,#eee082,#f0d780,#f2ce7d,#f3c57b,#f3b877,#f2aa73,#ed9e71,#e7936f,#e0896d,#da836c,#da846c,#e28b6d,#e9966f,#eea071,#f2ac74,#f3ba78)"></i>
<i style="background:linear-gradient(90deg,#9cfa98,#9dfa98,#9ffa97,#a2fa95,#a5fa93,#aaf992,#aef991,#b3f88f,#b8f88d,#bef78c,#c3f68b,#c8f589,#cef388,#d5f186,#dcee85,#e1eb84,#e8e783,#eee182,#f0d880,#f2cf7d,#f3c67b,#f3bb78,#f2ad74,#eea171,#ea9870,#e58f6e,#e08a6d,#e18a6d,#e6906f,#eb9a70,#efa372,#f3af74,#f3bd78)"></i>
<i style="background:linear-gradient(90deg,#9bfa99,#9cfa98,#9efa97,#a0fa96,#a4fa94,#a9f992,#adf991,#b2f88f,#b8f88e,#bdf78c,#c2f68b,#c7f589,#cdf488,#d5f286,#dcef85,#e1eb84,#e7e784,#eee282,#f0d980,#f2d17e,#f3c87b,#f3be78,#f3b075,#f0a572,#eb9c70,#e8946f,#e5906e,#e6906e,#e8956f,#ec9d71,#f1a672,#f3b275,#f3c079)"></i>
<i style="background:linear-gradient(90deg,#99fa99,#9afa99,#9cfa98,#9ffa96,#a3fa95,#a8fa92,#acf991,#b1f990,#b7f88e,#bcf78c,#c1f68b,#c7f58a,#ccf488,#d4f286,#dbef85,#e0ec84,#e6e884,#eee383,#f0da81,#f1d27e,#f3ca7c,#f3c179,#f3b376,#f2a872,#ed9f71,#ea9970,#e8956f,#e9966f,#eb9a70,#eea171,#f2a973,#f3b576,#f3c27a)"></i>
<i style="background:linear-gradient(90deg,#98fa9a,#99fa99,#9bfa99,#9efa97,#a2fa95,#a7fa93,#abf991,#b0f990,#b6f88e,#bbf88d,#c1f78b,#c6f58a,#cbf489,#d3f287,#daf085,#dfec84,#e5e984,#ede383,#efdc81,#f1d37f,#f3cb7c,#f3c37a,#f3b777,#f2ab73,#efa372,#ec9d71,#eb9a70,#eb9a70,#ed9e71,#f0a472,#f2ad74,#f3b977,#f3c37a)"></i>
<i style="background:linear-gradient(90deg,#97fa9b,#98fa9a,#9afa99,#9dfa98,#a0fa96,#a5fa93,#aaf992,#aff990,#b5f88f,#baf88d,#c0f78b,#c5f68a,#caf489,#d1f287,#d9f085,#deed84,#e4e984,#ebe483,#efdd81,#f1d57f,#f3cd7d,#f3c57b,#f3ba78,#f3af74,#f1a772,#eea171,#ed9e71,#ed9f71,#efa271,#f2a872,#f3b175,#f3bc78,#f3c67b)"></i>
<i style="background:linear-gradient(90deg,#96fa9b,#97fa9b,#98fa9a,#9bfa98,#9ffa97,#a4fa94,#a9f992,#aef991,#b4f88f,#b9f88d,#bff78c,#c4f68a,#c9f489,#d0f387,#d8f185,#ddee85,#e3ea84,#eae583,#efde82,#f0d77f,#f2cf7d,#f3c77b,#f3be79,#f3b376,#f2ab73,#f0a572,#efa372,#efa372,#f1a672,#f2ac74,#f3b576,#f3c079,#f3c87b)"></i>
<i style="background:linear-gradient(90deg,#95fa9c,#95fa9b,#97fa9b,#9afa99,#9dfa97,#a2fa95,#a8f992,#adf991,#b2f88f,#b8f88e,#bef78c,#c3f68b,#c8f589,#cff388,#d7f186,#dcee85,#e2eb84,#e9e683,#eee082,#f0d880,#f2d07e,#f3c97c,#f3c27a,#f3b877,#f3af74,#f2a973,#f1a772,#f1a772,#f2aa73,#f3b175,#f3ba77,#f3c37a,#f3ca7c)"></i>
<i style="background:linear-gradient(90deg,#93fa9c,#94fa9c,#96fa9b,#98fa9a,#9cfa98,#a1fa96,#a7fa93,#acf991,#b1f990,#b7f88e,#bdf78c,#c2f68b,#c7f58a,#cef388,#d6f186,#dbef85,#e1eb84,#e8e783,#eee182,#f0da80,#f1d27e,#f3cb7c,#f3c47a,#f3bc78,#f3b476,#f2ae74,#f2ac73,#f2ac73,#f3af74,#f3b676,#f3be79,#f3c67b,#f3cc7d)"></i>
<i style="background:linear-gradient(90deg,#92fa9d,#93fa9d,#94fa9c,#97fa9b,#9afa99,#9ffa97,#a5fa93,#abf992,#b0f990,#b6f88e,#bbf88d,#c1f68b,#c6f58a,#ccf488,#d4f286,#daf085,#e0ec84,#e6e884,#eee383,#efdc81,#f1d47f,#f3cd7d,#f3c77b,#f3c079,#f3b977,#f3b376,#f3b175,#f3b175,#f3b476,#f3ba78,#f3c27a,#f3c87c,#f2cf7d)"></i>
<i style="background:linear-gradient(90deg,#91fa9e,#91fa9e,#93fa9d,#95fa9b,#99fa9a,#9dfa97,#a4fa94,#a9f992,#aff990,#b5f88f,#baf88d,#c0f78b,#c5f58a,#cbf489,#d3f287,#d9f085,#dfed84,#e5e984,#ece483,#efdd81,#f1d67f,#f2cf7d,#f3c97c,#f3c37a,#f3bd78,#f3b877,#f3b676,#f3b676,#f3b977,#f3bf79,#f3c57b,#f3cb7c,#f2d17e)"></i>
<i style="background:linear-gradient(90deg,#8ffa9e,#90fa9e,#91fa9d,#94fa9c,#97fa9a,#9cfa98,#a2fa95,#a8f992,#aef991,#b3f88f,#b9f88d,#bff78c,#c4f68a,#caf489,#d2f287,#d8f185,#dded85,#e3ea84,#eae583,#efdf82,#f0d880,#f2d17e,#f3cb7c,#f3c67b,#f3c17a,#f3bd78,#f3bb78,#f3bb78,#f3be79,#f3c37a,#f3c97c,#f2ce7d,#f1d47f)"></i>
<i style="background:linear-gradient(90deg,#8ffa9e,#8ffa9e,#90fa9e,#92fa9d,#96fa9b,#9afa99,#a0fa96,#a7fa93,#acf991,#b2f88f,#b8f88e,#bef78c,#c3f68b,#c8f589,#d0f387,#d6f186,#dcee85,#e2ea84,#e9e683,#eee182,#f0da80,#f1d47f,#f2ce7d,#f3c97c,#f3c47a,#f3c17a,#f3c079,#f3c079,#f3c37a,#f3c77b,#f3cc7d,#f2d17e,#f0d780)"></i>
<i style="background:linear-gradient(90deg,#8ffa9e,#8ffa9e,#8ffa9e,#91fa9e,#94fa9c,#98fa9a,#9ffa97,#a5fa93,#abf991,#b1f990,#b7f88e,#bcf78c,#c2f68b,#c7f58a,#cff388,#d5f286,#dbef85,#e1eb84,#e7e783,#eee383,#efdc81,#f1d67f,#f2d07e,#f3cb7c,#f3c77b,#f3c47a,#f3c37a,#f3c47a,#f3c67b,#f3ca7c,#f2cf7d,#f1d57f,#f0db81)"></i>
<i style="background:linear-gradient(90deg,#8ffa9e,#8ffa9e,#8ffa9e,#8ffa9e,#92fa9d,#97fa9b,#9dfa98,#a4fa94,#aaf992,#b0f990,#b5f88e,#bbf88d,#c1f78b,#c6f58a,#cdf388,#d3f287,#daf085,#e0ec84,#e5e884,#ece483,#efde81,#f0d880,#f1d37e,#f2ce7d,#f3ca7c,#f3c77b,#f3c67b,#f3c77b,#f3c97c,#f3cd7d,#f1d37e,#f0d980,#efde82)"></i>
<i style="background:linear-gradient(90deg,#8ffa9e,#8ffa9e,#8ffa9e,#8ffa9e,#91fa9e,#95fa9b,#9bfa99,#a2fa95,#a9f992,#aef990,#b4f88f,#baf88d,#c0f78b,#c5f58a,#ccf488,#d2f287,#d8f185,#deed84,#e4e984,#eae583,#eee082,#f0da80,#f1d57f,#f2d07e,#f3cd7d,#f3ca7c,#f3c97c,#f3ca7c,#f3cc7d,#f2d17e,#f1d67f,#efdc81,#eee283)"></i>
<i style="background:linear-gradient(90deg,#8ffa9e,#8ffa9e,#8ffa9e,#8ffa9e,#8ffa9e,#94fa9c,#99fa99,#a0fa96,#a7fa93,#adf991,#b3f88f,#b9f88d,#bff78c,#c4f68a,#caf489,#d0f387,#d7f186,#ddee85,#e2ea84,#e8e683,#eee283,#efdc81,#f0d880,#f1d37e,#f2d07e,#f3cd7d,#f3cc7d,#f3cd7d,#f2d07e,#f1d47f,#f0da80,#eee082,#ebe583)"></i>
<i style="background:linear-gradient(90deg,#8ffa9e,#8ffa9e,#8ffa9e,#8ffa9e,#8ffa9e,#92fa9d,#98fa9a,#9efa97,#a6fa93,#acf991,#b2f98f,#b8f88e,#bdf78c,#c3f68b,#c8f589,#cef388,#d5f186,#dcef85,#e1eb84,#e6e884,#ece483,#efdf82,#f0da80,#f1d67f,#f1d27e,#f2d07e,#f2cf7d,#f2d07e,#f1d37e,#f0d880,#efde82,#ece483,#e7e784)"></i>
<i style="background:linear-gradient(90deg,#8ffa9e,#8ffa9e,#8ffa9e,#8ffa9e,#8ffa9e,#91fa9e,#96fa9b,#9dfa98,#a4fa94,#abf992,#b0f990,#b6f88e,#bcf78c,#c2f68b,#c7f58a,#cdf488,#d3f287,#daf085,#e0ec84,#e5e984,#eae583,#eee182,#efdc81,#f0d880,#f1d57f,#f1d37e,#f1d27e,#f1d37f,#f1d67f,#efdc81,#eee283,#e8e783,#e2ea84)"></i>
<i style="background:linear-gradient(90deg,#8ffa9e,#8ffa9e,#8ffa9e,#8ffa9e,#8ffa9e,#8ffa9e,#94fa9c,#9bfa98,#a3fa95,#a9f992,#aff990,#b5f88e,#bbf88d,#c1f78b,#c6f58a,#cbf489,#d1f287,#d9f085,#deed84,#e3ea84,#e8e683,#ede383,#efde82,#f0da81,#f0d880,#f1d67f,#f1d57f,#f1d67f,#f0da80,#eedf82,#eae583,#e3ea84,#deed85)"></i>
<i style="background:linear-gradient(90deg,#8ffa9e,#8ffa9e,#8ffa9e,#8ffa9e,#8ffa9e,#8ffa9e,#93fa9d,#9afa99,#a1fa96,#a8f992,#aef991,#b4f88f,#baf88d,#c0f78b,#c5f58a,#c9f489,#d0f387,#d7f186,#ddee85,#e2eb84,#e6e884,#ebe483,#eee182,#efdd81,#f0da80,#f0d880,#f0d880,#f0d980,#efdd81,#eee383,#e6e884,#dfed84,#d9f085)"></i>
<i style="background:linear-gradient(90deg,#8ffa9e,#8ffa9e,#8ffa9e,#8ffa9e,#8ffa9e,#8ffa9e,#91fa9d,#98fa9a,#a0fa96,#a7fa93,#adf991,#b3f88f,#b9f88d,#bff78c,#c4f68a,#c8f589,#cef388,#d5f186,#dbef85,#e0ec84,#e4e984,#e9e683,#eee383,#efdf82,#efdc81,#f0db81,#f0da80,#efdc81,#eee082,#eae583,#e2ea84,#daf085,#d3f286)"></i>
<i style="background:linear-gradient(90deg,#8ffa9e,#8ffa9e,#8ffa9e,#8ffa9e,#8ffa9e,#8ffa9e,#90fa9e,#97fa9b,#9efa97,#a6fa93,#acf991,#b2f98f,#b8f88e,#bef78c,#c3f68b,#c6f58a,#ccf488,#d3f286,#daf085,#dfed84,#e3ea84,#e7e783,#ebe483,#eee182,#efdf82,#efdd81,#efdd81,#efdf82,#eee383,#e7e784,#deed84,#d5f186,#cef388)"></i>
<i style="background:linear-gradient(90deg,#8ffa9e,#8ffa9e,#8ffa9e,#8ffa9e,#8ffa9e,#8ffa9e,#8ffa9e,#96fa9b,#9dfa98,#a5fa94,#abf991,#b1f990,#b7f88e,#bdf78c,#c2f68b,#c5f58a,#caf489,#d2f287,#d8f185,#ddee85,#e1eb84,#e5e884,#e9e683,#ede383,#eee182,#eee082,#eedf82,#eee182,#ebe583,#e3ea84,#daf085,#cff387,#c8f589)"></i>
<i style="background:linear-gradient(90deg,#8ffa9e,#8ffa9e,#8ffa9e,#8ffa9e,#8ffa9e,#8ffa9e,#8ffa9e,#95fa9c,#9cfa98,#a3fa94,#aaf992,#b0f990,#b6f88e,#bcf88c,#c1f68b,#c4f68a,#c9f589,#d0f387,#d7f186,#dcef85,#e0ec84,#e4e984,#e7e784,#eae583,#ede383,#eee283,#eee283,#ece483,#e8e783,#e0ec84,#d6f186,#caf489,#c4f68a)"></i>
<i style="background:linear-gradient(90deg,#8ffa9e,#8ffa9e,#8ffa9e,#8ffa9e,#8ffa9e,#8ffa9e,#8ffa9e,#94fa9c,#9bfa99,#a2fa95,#a9f992,#aff990,#b5f88e,#bbf88d,#c0f78b,#c3f68b,#c7f58a,#cef388,#d5f286,#daf085,#deed84,#e2ea84,#e5e884,#e8e683,#ebe583,#ece483,#ece483,#eae583,#e5e984,#ddee85,#d1f287,#c6f58a,#bff78b)"></i>
<i style="background:linear-gradient(90deg,#8ffa9e,#8ffa9e,#8ffa9e,#8ffa9e,#8ffa9e,#8ffa9e,#8ffa9e,#93fa9d,#9afa99,#a1fa95,#a9f992,#aef990,#b4f88f,#baf88d,#bff78b,#c2f68b,#c6f58a,#ccf488,#d3f287,#d9f185,#ddee85,#e1eb84,#e4e984,#e6e884,#e8e683,#eae583,#eae583,#e7e783,#e2ea84,#daf085,#cef388,#c2f68b,#bcf88c)"></i>
<i style="background:linear-gradient(90deg,#8ffa9e,#8ffa9e,#8ffa9e,#8ffa9e,#8ffa9e,#8ffa9e,#8ffa9e,#92fa9d,#99fa9a,#a1fa96,#a8fa92,#aef991,#b4f88f,#b9f88d,#bff78c,#c2f68b,#c5f68a,#cbf489,#d1f287,#d7f186,#dbef85,#dfec84,#e2ea84,#e4e984,#e6e884,#e7e783,#e7e783,#e5e984,#e0ec84,#d8f185,#cbf489,#bff78b,#b9f88d)"></i>
<i style="background:linear-gradient(90deg,#8ffa9e,#8ffa9e,#8ffa9e,#8ffa9e,#8ffa9e,#8ffa9e,#8ffa9e,#92fa9d,#99fa9a,#a0fa96,#a7fa93,#adf991,#b3f88f,#b9f88d,#bef78c,#c1f78b,#c4f68a,#c9f489,#cff387,#d5f186,#daf085,#dded85,#e0ec84,#e3ea84,#e5e984,#e6e884,#e5e884,#e3ea84,#deed84,#d5f186,#c9f589,#bdf78c,#b6f88e)"></i>
<i style="background:linear-gradient(90deg,#8ffa9e,#8ffa9e,#8ffa9e,#8ffa9e,#8ffa9e,#8ffa9e,#8ffa9e,#92fa9d,#98fa9a,#a0fa96,#a7fa93,#adf991,#b2f88f,#b8f88e,#bdf78c,#c0f78b,#c3f68a,#c8f589,#cef388,#d3f286,#d8f185,#dcee85,#dfed84,#e1eb84,#e3ea84,#e4e984,#e4e984,#e1eb84,#dcee85,#d3f286,#c7f58a,#bbf88d,#b4f88f)"></i>
<i style="background:linear-gradient(90deg,#8ffa9e,#8ffa9e,#8ffa9e,#8ffa9e,#8ffa9e,#8ffa9e,#8ffa9e,#92fa9d,#98fa9a,#9ffa96,#a7fa93,#acf991,#b2f88f,#b8f88e,#bdf78c,#bff78b,#c3f68b,#c7f58a,#ccf488,#d1f287,#d7f186,#daef85,#ddee85,#e0ec84,#e1eb84,#e2ea84,#e2eb84,#e0ec84,#dbef85,#d2f287,#c5f58a,#baf88d,#b3f88f)"></i>
<i style="background:linear-gradient(90deg,#8ffa9e,#8ffa9e,#8ffa9e,#8ffa9e,#8ffa9e,#8ffa9e,#8ffa9e,#92fa9d,#98fa9a,#9ffa97,#a6fa93,#acf991,#b2f98f,#b7f88e,#bcf78c,#bff78c,#c2f68b,#c6f58a,#caf489,#d0f387,#d5f286,#d9f085,#dcef85,#deed85,#e0ec84,#e1eb84,#e0ec84,#deed84,#daf085,#d0f387,#c4f68a,#b9f88d,#b3f88f)"></i>
<i style="background:linear-gradient(90deg,#8ffa9e,#8ffa9e,#8ffa9e,#8ffa9e,#8ffa9e,#8ffa9e,#8ffa9e,#92fa9d,#98fa9a,#9ffa97,#a6fa93,#acf991,#b1f990,#b7f88e,#bcf88c,#bef78c,#c1f68b,#c5f58a,#c9f489,#cef388,#d3f287,#d7f186,#daf085,#dcee85,#deed84,#dfed84,#dfed84,#ddee85,#d8f185,#cff388,#c4f68a,#b9f88d,#b3f88f)"></i>
<i style="background:linear-gradient(90deg,#8ffa9e,#8ffa9e,#8ffa9e,#8ffa9e,#8ffa9e,#8ffa9e,#8ffa9e,#93fa9d,#98fa9a,#9ffa97,#a6fa93,#acf991,#b1f990,#b6f88e,#bbf88d,#bef78c,#c1f78b,#c5f58a,#c9f589,#ccf488,#d1f287,#d5f186,#d9f185,#dbef85,#dcee85,#ddee85,#ddee85,#dbef85,#d7f186,#cef388,#c4f68a,#baf88d,#b4f88f)"></i>
<i style="background:linear-gradient(90deg,#8ffa9e,#8ffa9e,#8ffa9e,#8ffa9e,#8ffa9e,#8ffa9e,#8ffa9e,#94fa9c,#99fa9a,#9ffa96,#a6fa93,#acf991,#b1f990,#b6f88e,#bbf88d,#bdf78c,#c0f78b,#c4f68a,#c8f589,#cbf488,#cff388,#d3f286,#d7f186,#d9f085,#dbef85,#dcef85,#dcef85,#daf085,#d5f186,#cdf388,#c4f68a,#bbf88d,#b5f88e)"></i>
</div>
<div id="grid"></div>
<svg class="abs" style="left:0;top:0" width="497" height="707" viewBox="0 0 497 707" fill="none" stroke="rgba(110,115,45,.12)" stroke-width="2.4">
<path d="M0 86H18V65M44 65V86H165V65M186 65V86H302V65M323 65V86H384V56"/>
<path d="M0 136H14V319M0 196H230M161 136V196M79 178H161M230 222V136H254M313 136H341V154"/>
<path d="M403 97V277M403 102H462M462 56V330M474 56V330M462 140H482V160H462M465 304H482V322H465"/>
<path d="M311 372V277H340V290M316 277V372M340 325V372H300M296 372V400M304 372V400M318 372V400M326 372V400M333 372V400"/>
<path d="M404 240V278H420M420 310H404V365H456V310M450 451H478V472H450zM450 546H478V566H450zM462 472V546"/>
<path d="M0 470H20V500H0M20 420V470M70 430V560M165 430V580M70 495H300M195 495V560M0 560H60"/>
<path d="M246 380V470M280 400V470M246 470H300"/>
</svg>
</div>

<svg class="abs" style="left:0;top:0" width="520" height="707" viewBox="0 0 520 707">
  <polyline points="134,137 68,137 68,374 259,374 259,493.5 340,495" fill="none" stroke="#0c69ee" stroke-width="2.900" stroke-linejoin="miter"/>
  <line x1="233" y1="154.800" x2="342" y2="153.600" stroke="#38331f" stroke-width="2.900"/>
  <line x1="340" y1="493.400" x2="456" y2="493.400" stroke="#38331f" stroke-width="2.900"/>
  <g fill="rgba(190,225,130,.6)" stroke="#1f8a12" stroke-width="2.400">
    <circle cx="68" cy="137" r="5.400"/><circle cx="134" cy="137" r="5.400"/>
    <circle cx="68" cy="374" r="5.400"/><circle cx="259" cy="374" r="5.400"/>
    <circle cx="259" cy="493.500" r="5.400"/><circle cx="340" cy="495" r="5.400"/>
  </g>
</svg>

<div class="ap" style="left:226.4px;top:62.9px"><svg width="20" height="20" viewBox="0 0 20 20"><rect x="1.300" y="0" width="1.300" height="20" fill="rgba(150,140,110,.32)"/><rect x="17.300" y="0" width="1.500" height="20" fill="rgba(150,140,110,.36)"/><g fill="none" stroke="#5a7cbc" stroke-width="1.350" stroke-linecap="round"><path d="M4.600 8.700a7.600 7.600 0 0 1 10.800 0"/><path d="M6.400 10.600a5.100 5.100 0 0 1 7.200 0"/><path d="M8.100 12.400a2.700 2.700 0 0 1 3.800 0"/></g><path d="M8.800 13.300h2.400L10 14.800z" fill="#5a7cbc"/><g fill="#b4ae9c"><rect x="4.600" y="17.100" width="1.300" height="1.700"/><rect x="7" y="17.100" width="1.300" height="1.700"/><rect x="9.400" y="17.100" width="1.300" height="1.700"/><rect x="11.800" y="17.100" width="1.300" height="1.700"/><rect x="14.200" y="17.100" width="1.300" height="1.700"/></g></svg></div>
<div class="tx" style="left:215.00px;top:87px;font-size:10.58px;line-height:12px;color:#2c2418;">2ch, 75%</div>
<div class="ap" style="left:90.4px;top:242.9px"><svg width="20" height="20" viewBox="0 0 20 20"><rect x="1.300" y="0" width="1.300" height="20" fill="rgba(150,140,110,.32)"/><rect x="17.300" y="0" width="1.500" height="20" fill="rgba(150,140,110,.36)"/><g fill="none" stroke="#5a7cbc" stroke-width="1.350" stroke-linecap="round"><path d="M4.600 8.700a7.600 7.600 0 0 1 10.800 0"/><path d="M6.400 10.600a5.100 5.100 0 0 1 7.200 0"/><path d="M8.100 12.400a2.700 2.700 0 0 1 3.800 0"/></g><path d="M8.800 13.300h2.400L10 14.800z" fill="#5a7cbc"/><g fill="#b4ae9c"><rect x="4.600" y="17.100" width="1.300" height="1.700"/><rect x="7" y="17.100" width="1.300" height="1.700"/><rect x="9.400" y="17.100" width="1.300" height="1.700"/><rect x="11.800" y="17.100" width="1.300" height="1.700"/><rect x="14.200" y="17.100" width="1.300" height="1.700"/></g></svg></div>
<div class="tx" style="left:79.00px;top:267px;font-size:10.58px;line-height:12px;color:#2c2418;">2ch, 75%</div>
<div class="ap" style="left:406.4px;top:535.9px"><svg width="20" height="20" viewBox="0 0 20 20"><rect x="1.300" y="0" width="1.300" height="20" fill="rgba(150,140,110,.32)"/><rect x="17.300" y="0" width="1.500" height="20" fill="rgba(150,140,110,.36)"/><g fill="none" stroke="#5a7cbc" stroke-width="1.350" stroke-linecap="round"><path d="M4.600 8.700a7.600 7.600 0 0 1 10.800 0"/><path d="M6.400 10.600a5.100 5.100 0 0 1 7.200 0"/><path d="M8.100 12.400a2.700 2.700 0 0 1 3.800 0"/></g><path d="M8.800 13.300h2.400L10 14.800z" fill="#5a7cbc"/><g fill="#b4ae9c"><rect x="4.600" y="17.100" width="1.300" height="1.700"/><rect x="7" y="17.100" width="1.300" height="1.700"/><rect x="9.400" y="17.100" width="1.300" height="1.700"/><rect x="11.800" y="17.100" width="1.300" height="1.700"/><rect x="14.200" y="17.100" width="1.300" height="1.700"/></g></svg></div>
<div class="tx" style="left:395.00px;top:560px;font-size:10.58px;line-height:12px;color:#2c2418;">2ch, 75%</div>


<div id="tip" class="abs"></div>
<div class="tx" style="left:330.90px;top:165px;font-size:11.85px;line-height:14px;color:#f3efd8;">Wall Name:&nbsp; Wall2</div>
<div class="tx" style="left:330.90px;top:185px;font-size:11.85px;line-height:14px;color:#f3efd8;">Material:&nbsp; Glass</div>
<div class="tx" style="left:330.90px;top:205px;font-size:11.85px;line-height:14px;color:#f3efd8;">Attenuation:&nbsp; 75%</div>
<div class="tx" style="left:330.90px;top:225px;font-size:11.85px;line-height:14px;color:#f3efd8;">Thickness:&nbsp; 200 mm</div>

<div id="topbar" class="abs"></div>
<div id="footbar" class="abs"></div>
<div class="tx" style="left:17.00px;top:21px;font-size:11.74px;line-height:13px;color:#5a5f66;">B2-F1</div>
<div class="tbtn" style="left:961px;width:98px"></div>
<div class="tbtn" style="left:1081px;width:158px"></div>
<div class="tx" style="left:990.10px;top:22px;font-size:11.29px;line-height:12px;color:#fff;">Radio 1</div>
<div class="tx" style="left:1137.20px;top:22px;font-size:11.51px;line-height:12px;color:#fff;">Edit Wall</div>
<svg class="abs" style="left:1045px;top:23px" width="10" height="10" viewBox="0 0 10 10"><path d="M.6.800h8.400L4.800 9.200z" fill="#fff"/></svg>
<svg class="abs" style="left:1225px;top:23px" width="10" height="10" viewBox="0 0 10 10"><path d="M.6.800h8.400L4.800 9.200z" fill="#fff"/></svg>

<svg class="abs" style="left:50px;top:681px" width="18" height="18" viewBox="0 0 18 18"><path d="M9 3.400A6.100 6.100 0 1 0 14.200 6.300" fill="none" stroke="#8b90a9" stroke-width="1.900"/><path d="M6.800.9L13.200 3.600 6.800 6.300z" fill="#8b90a9"/></svg>
<svg class="abs" style="left:88px;top:680px" width="16" height="18" viewBox="0 0 16 18"><path d="M8 1.800C9 1.800 9.400 2.500 9.500 3.200 11.600 4.100 12.100 6.500 12.100 8.500V11.700H14V13.700H2V11.700H3.900V8.500C3.900 6.500 4.400 4.100 6.500 3.200 6.600 2.500 7 1.800 8 1.800z" fill="#8b90a9"/><path d="M6.200 15h3.600L8 17.100z" fill="#8b90a9"/></svg>

<div id="legend" class="abs"><div class="in"></div><div class="bar"></div></div>
<div class="tx" style="left:851.70px;top:79px;font-size:13.52px;line-height:15px;color:#222;">[dBm]</div>
<div class="tx" style="left:854.20px;top:101px;font-size:13.43px;line-height:15px;color:#222;">-30</div>
<div class="tx" style="left:854.20px;top:117px;font-size:13.43px;line-height:15px;color:#222;">-35</div>
<div class="tx" style="left:854.20px;top:133px;font-size:13.43px;line-height:15px;color:#222;">-40</div>
<div class="tx" style="left:854.20px;top:149px;font-size:13.43px;line-height:15px;color:#222;">-45</div>
<div class="tx" style="left:854.20px;top:165px;font-size:13.43px;line-height:15px;color:#222;">-50</div>
<div class="tx" style="left:854.20px;top:181px;font-size:13.43px;line-height:15px;color:#222;">-55</div>
<div class="tx" style="left:854.20px;top:197px;font-size:13.43px;line-height:15px;color:#222;">-60</div>
<div class="tx" style="left:854.20px;top:213px;font-size:13.43px;line-height:15px;color:#222;">-65</div>
<div class="tx" style="left:854.20px;top:229px;font-size:13.43px;line-height:15px;color:#222;">-75</div>

<div id="rp" class="abs"><div id="rpi"></div></div>
<svg class="abs" style="left:919px;top:93px" width="18" height="14" viewBox="0 0 18 14"><g fill="#9aa4aa"><rect x="7" y=".9" width="10" height="1.800"/><rect x="4.500" y="6.100" width="12.500" height="1.800"/><rect x="7" y="11.200" width="10" height="1.800"/><path d="M1 7L5.800 3.400V10.600z"/></g></svg>
<div class="tx" style="left:941.40px;top:94px;font-size:11.74px;line-height:13px;color:#9aa3ab;">Detail</div>
<div class="abs" style="left:982px;top:90px;width:39px;height:20px;background:#a4aeb3;border-radius:3px"></div>
<div class="tx" style="left:986.30px;top:95px;font-size:9.51px;line-height:11px;color:#fff;">2 Walls</div>
<div class="tx" style="left:931.40px;top:129px;font-size:13.25px;line-height:15px;color:#4e5663;font-weight:bold;">Wall Name</div><div class="tx" style="left:1003.70px;top:130px;font-size:13.00px;line-height:15px;color:#d9534f;">*</div>
<div class="inp" style="top:122px"></div>
<div class="tx" style="left:1056.90px;top:131px;font-size:11.90px;line-height:14px;color:#333;">Wall3</div>
<div class="tx" style="left:931.40px;top:167px;font-size:13.25px;line-height:15px;color:#4e5663;font-weight:bold;">Material</div>
<div class="inp" style="top:160px;height:30px;border-color:#444;border-radius:3px"></div>
<svg class="abs" style="left:1184px;top:171px" width="12" height="8" viewBox="0 0 12 8"><path d="M1.500 1.500L6 6l4.500-4.500" fill="none" stroke="#111" stroke-width="2"/></svg>
<div class="tx" style="left:1056.30px;top:169px;font-size:13.33px;line-height:15px;color:#222;">Wood</div>
<div class="tx" style="left:931.40px;top:207px;font-size:13.25px;line-height:15px;color:#4e5663;font-weight:bold;">Attenuation</div><div class="tx" style="left:1010.00px;top:208px;font-size:13.00px;line-height:15px;color:#d9534f;">*</div>
<div class="tx" style="left:1046.30px;top:208px;font-size:11.90px;line-height:14px;color:#6a727a;">30 %</div>
<div class="tx" style="left:931.40px;top:240px;font-size:12.40px;line-height:14px;color:#4e5663;font-weight:bold;">Thickness</div><div class="tx" style="left:996.50px;top:240px;font-size:13.00px;line-height:15px;color:#d9534f;">*</div>
<div class="inp" style="top:232px"></div>
<div class="tx" style="left:1056.90px;top:240px;font-size:11.90px;line-height:14px;color:#333;">200</div>
<div class="tx" style="left:1206.60px;top:237px;font-size:12.85px;line-height:15px;color:#6a727a;">mm</div>
<div class="btn" style="left:931px;background:#2196f3"></div>
<div class="btn" style="left:1021px;background:#9eacb1"></div>
<div class="tx" style="left:960.30px;top:284px;font-size:12.00px;line-height:14px;color:#fff;">Add</div>
<div class="tx" style="left:1047.70px;top:285px;font-size:11.40px;line-height:12px;color:#fff;">Clear</div>
<div class="hl" style="top:322px"></div>
<svg class="abs" style="left:922px;top:331px" width="16" height="16" viewBox="0 0 16 16"><circle cx="7.200" cy="6" r="5.200" fill="none" stroke="#62a0d8" stroke-width="2"/><path d="M11.200 10L14.400 13.200" stroke="#62a0d8" stroke-width="2.500" stroke-linecap="round"/></svg>
<div class="tx" style="left:945.10px;top:333px;font-size:10.34px;line-height:11px;color:#6f7880;">Search walls</div>
<div class="abs" style="left:921px;top:353px;width:308px;height:2px;background:#8aa9c2"></div>
<div class="hl" style="top:362px"></div>
<svg class="abs" style="left:1068px;top:362px" width="14" height="7" viewBox="0 0 14 7"><path d="M0 .5h14L7 6.500z" fill="#eaf9fe"/><path d="M0 .5L7 6.500 14 .5" fill="none" stroke="#c3d3da" stroke-width="1"/></svg>
<svg class="abs" style="left:921px;top:376px" width="8" height="8" viewBox="0 0 8 8"><path d="M.8 6.500L4 1.800l3.200 4.700" fill="none" stroke="#333" stroke-width="1.200"/></svg>
<div class="tx" style="left:936.60px;top:373px;font-size:11.70px;line-height:13px;color:#333;">Wall Name</div>
<div class="abs" style="left:933px;top:386px;width:61px;height:1px;background:#333"></div>
<div class="tx" style="left:1156.60px;top:373px;font-size:11.70px;line-height:13px;color:#333;">Copy</div>
<div class="tx" style="left:1189.40px;top:373px;font-size:11.70px;line-height:13px;color:#333;">Delete</div>
<div class="hl" style="top:394px"></div>
<div class="abs" style="left:1222px;top:395px;width:17px;height:262px;background:#dceaef"></div>
<svg class="abs" style="left:1227px;top:402px" width="8" height="5" viewBox="0 0 8 5"><path d="M.2 4.500L3.700.2l3.500 4.300z" fill="#98a2a7"/></svg>
<div class="tx" style="left:921.40px;top:406px;font-size:11.40px;line-height:12px;color:#8a949c;">Wall1</div>
<div class="hl" style="top:427px;width:309px"></div>
<div class="tx" style="left:921.40px;top:439px;font-size:11.40px;line-height:12px;color:#8a949c;">Wall2</div>
<div class="hl" style="top:460px;width:309px"></div>
<svg class="abs" style="left:1159px;top:402px" width="18" height="18" viewBox="0 0 18 18"><g fill="none" stroke="#b1c0cb" stroke-width="1.800"><path d="M6.400 1.900H13L15.900 4.800V12.800H6.400z"/><path d="M6.400 5.400H2.900V15.900H12.800V12.800"/></g></svg><svg class="abs" style="left:1159px;top:435px" width="18" height="18" viewBox="0 0 18 18"><g fill="none" stroke="#b1c0cb" stroke-width="1.800"><path d="M6.400 1.900H13L15.900 4.800V12.800H6.400z"/><path d="M6.400 5.400H2.900V15.900H12.800V12.800"/></g></svg><svg class="abs" style="left:1196px;top:402px" width="16" height="18" viewBox="0 0 16 18"><path d="M5.900 3.600V1.900h3.900v1.700" fill="none" stroke="#b1c0cb" stroke-width="1.700"/><path d="M1 3.500h12.800V6H1z" fill="#b1c0cb"/><path d="M2.200 6h10.400v11H2.200zM3.900 7.400v8.200h1.200V7.400zM6.800 7.400v8.200H8V7.400zM9.700 7.400v8.200h1.200V7.400z" fill="#b1c0cb" fill-rule="evenodd"/></svg><svg class="abs" style="left:1196px;top:435px" width="16" height="18" viewBox="0 0 16 18"><path d="M5.900 3.600V1.900h3.900v1.700" fill="none" stroke="#b1c0cb" stroke-width="1.700"/><path d="M1 3.500h12.800V6H1z" fill="#b1c0cb"/><path d="M2.200 6h10.400v11H2.200zM3.900 7.400v8.200h1.200V7.400zM6.800 7.400v8.200H8V7.400zM9.700 7.400v8.200h1.200V7.400z" fill="#b1c0cb" fill-rule="evenodd"/></svg>
<div class="pg" style="left:1032px;width:24px"></div>
<div class="pg" style="left:1065px;width:20px;background:#3fa7dc;border-color:#3fa7dc"></div>
<div class="pg" style="left:1095px;width:23px"></div>
<div class="tx" style="left:1037.50px;top:632px;font-size:10.09px;line-height:11px;color:#7a8890;letter-spacing:1.20px;">&lt;&lt;</div><div class="tx" style="left:1072.30px;top:631px;font-size:11.50px;line-height:12px;color:#fff;">1</div><div class="tx" style="left:1100.00px;top:632px;font-size:10.09px;line-height:11px;color:#7a8890;letter-spacing:1.20px;">&gt;&gt;</div>

<div id="ctl" class="abs"><div class="abs" style="left:1px;top:0;width:1px;height:73px;background:#b9b4c0"></div><div class="abs" style="right:2px;top:0;width:1px;height:73px;background:#c9c4d0"></div></div>
<div class="tx" style="left:26.30px;top:595px;font-size:12.95px;line-height:15px;color:#9b9ba3;">Drawing Mode:</div>
<div class="abs" style="left:118px;top:586px;width:120px;height:30px;border:1px solid #cfccd6;border-radius:4px;background:#efebf3"></div>
<svg class="abs" style="left:222px;top:598px" width="11" height="7" viewBox="0 0 11 7"><path d="M1 1l4.500 4.500L10 1" fill="none" stroke="#a4a4ac" stroke-width="1.500"/></svg>
<div class="tx" style="left:128.10px;top:596px;font-size:12.55px;line-height:14px;color:#a6a6ae;">Power</div>
<div class="cb dis" style="left:254px;top:594px"><svg width="13" height="13" viewBox="0 0 13 13"><path d="M2.800 6.800l2.500 2.500 5-5.600" fill="none" stroke="#f4f2f6" stroke-width="1.800"/></svg></div><div class="tx" style="left:270.90px;top:596px;font-size:12.55px;line-height:14px;color:#9b9ba3;">Grid</div>
<div class="cb on" style="left:311px;top:594px"><svg width="13" height="13" viewBox="0 0 13 13"><path d="M2.800 6.800l2.500 2.500 5-5.600" fill="none" stroke="#fff" stroke-width="1.800"/></svg></div><div class="tx" style="left:328.20px;top:596px;font-size:12.55px;line-height:14px;color:#222;">Legend</div>
<div class="cb on" style="left:386px;top:594px"><svg width="13" height="13" viewBox="0 0 13 13"><path d="M2.800 6.800l2.500 2.500 5-5.600" fill="none" stroke="#fff" stroke-width="1.800"/></svg></div><div class="tx" style="left:403.40px;top:596px;font-size:12.55px;line-height:14px;color:#222;">Details</div>
<div class="cb dis" style="left:458px;top:594px"><svg width="13" height="13" viewBox="0 0 13 13"><path d="M2.800 6.800l2.500 2.500 5-5.600" fill="none" stroke="#f4f2f6" stroke-width="1.800"/></svg></div><div class="tx" style="left:475.00px;top:596px;font-size:12.55px;line-height:14px;color:#9b9ba3;">Healthiness Icon</div>
<div class="cb off" style="left:584px;top:594px"></div><div class="tx" style="left:601.50px;top:596px;font-size:12.55px;line-height:14px;color:#9b9ba3;">Floor Area</div>
<div class="cb off" style="left:676px;top:594px"></div><div class="tx" style="left:693.70px;top:596px;font-size:12.55px;line-height:14px;color:#9b9ba3;">Device Counter</div>
<div class="cb dis" style="left:797px;top:594px"><svg width="13" height="13" viewBox="0 0 13 13"><path d="M2.800 6.800l2.500 2.500 5-5.600" fill="none" stroke="#f4f2f6" stroke-width="1.800"/></svg></div><div class="tx" style="left:814.50px;top:596px;font-size:12.55px;line-height:14px;color:#9b9ba3;">Wall</div>
<div class="tx" style="left:26.30px;top:635px;font-size:12.75px;line-height:15px;color:#9b9ba3;">Power Limit: -65 dBm</div>
<div class="sl" style="left:153px;width:120px;background:#a4a4ac"></div>
<div class="th" style="left:193px;border:1px solid #a4a4ac"></div>
<div class="tx" style="left:288.40px;top:635px;font-size:12.75px;line-height:15px;color:#222;">Background Opacity: 30 %</div>
<div class="sl" style="left:444px;width:119px;background:#55556a"></div>
<div class="th" style="left:478px;border:1px solid #55556a"></div>

<div id="zm" class="abs">
  <div style="top:4px"><svg width="27" height="29" viewBox="0 0 27 29"><path d="M14 8v14M7 15h14" stroke="#111" stroke-width="2"/></svg></div>
  <div style="top:34px"><svg width="27" height="29" viewBox="0 0 27 29"><path d="M7 15h14" stroke="#111" stroke-width="2"/></svg></div>
</div>

<svg class="abs" style="left:0;top:0" width="1260" height="60" viewBox="0 0 1260 60"><polygon points="3.4,4.2 1245.9,3 1245.9,53.9 3.4,51.4" fill="rgba(60,170,70,.06)" stroke="#2fae45" stroke-width="2.2"/></svg>
<div class="sec" style="left:3px;top:54px;width:508px;height:527px;border-color:#f0a030;background:rgba(240,160,48,.13)"></div>
<div class="sec" style="left:829px;top:72px;width:63px;height:193px;border-color:#b71c1c"></div>
<div class="abs" style="left:0;top:470px;width:1px;height:19px;background:#a8785f"></div>

<div class="tag" style="left:672px;top:36px;width:63px;height:26px;background:#14a44d"><span>SECTION</span><b>1</b></div>
<div class="tag" style="left:479px;top:233px;width:62px;height:26px;background:#e8901c"><span>SECTION</span><b>2</b></div>
<div class="tag" style="left:1098px;top:61px;width:63px;height:26px;background:#1976c8"><span>SECTION</span><b>3</b></div>
<div class="tag big" style="left:824px;top:264px;width:72px;height:31px;background:#b71c1c"><span>SECTION</span><b>4</b></div>
<div class="tag big" style="left:664px;top:644px;width:71px;height:29px;background:#6a2c91"><span>SECTION</span><b>5</b></div>
<div class="tag big" style="left:841px;top:665px;width:70px;height:29px;background:#9e9e9e"><span>SECTION</span><b>6</b></div>
</body>
</html>
